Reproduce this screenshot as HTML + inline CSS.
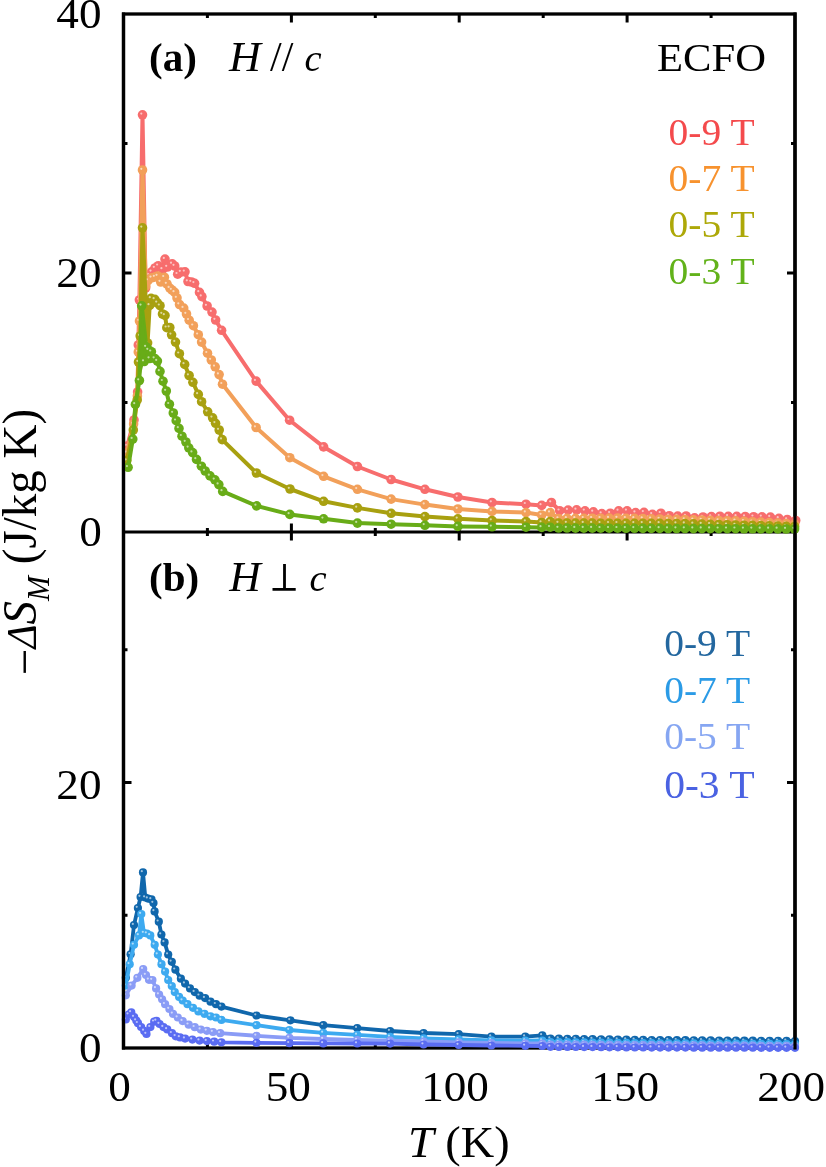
<!DOCTYPE html><html><head><meta charset="utf-8"><style>
html,body{margin:0;padding:0;background:#fff;width:826px;height:1167px;overflow:hidden}
svg{display:block;will-change:transform}
text{font-family:"Liberation Serif",serif}
</style></head><body>
<svg width="826" height="1167" viewBox="0 0 826 1167">
<g stroke="#000" fill="none">
<rect x="123.5" y="14.0" width="671.5" height="1034.0" stroke-width="3.3"/>
<line x1="123.5" y1="532.0" x2="795.0" y2="532.0" stroke-width="3"/>
<path d="M207.4 14.0 v4 M207.4 1048.0 v-4 M207.4 528 v8 M291.4 14.0 v8.5 M291.4 1048.0 v-8.5 M291.4 523.5 v17.0 M375.3 14.0 v4 M375.3 1048.0 v-4 M375.3 528 v8 M459.2 14.0 v8.5 M459.2 1048.0 v-8.5 M459.2 523.5 v17.0 M543.2 14.0 v4 M543.2 1048.0 v-4 M543.2 528 v8 M627.1 14.0 v8.5 M627.1 1048.0 v-8.5 M627.1 523.5 v17.0 M711.1 14.0 v4 M711.1 1048.0 v-4 M711.1 528 v8 M123.5 402.5 h4 M795.0 402.5 h-4 M123.5 915.2 h4 M795.0 915.2 h-4 M123.5 273 h8 M795.0 273 h-8 M123.5 782.5 h8 M795.0 782.5 h-8 M123.5 143.5 h4 M795.0 143.5 h-4 M123.5 649.8 h4 M795.0 649.8 h-4" stroke-width="3"/>
</g>
<g>
<path d="M127.3 446 L134 420 L137.6 392 L138.3 345 L139.4 300 L142.5 114.8 L145.6 288 L149 275 L151.7 271.8 L155 268 L158.3 265.7 L162.6 269.4 L165 259.1 L167.4 267 L172.2 263.9 L174.7 266 L177.7 274.2 L181 272 L185 271.8 L188 281.5 L191.5 282 L194.6 283.3 L199.5 292.4 L201.9 296.6 L207.1 306 L212 312.1 L215.6 320 L221.6 330.3 L256.1 381.1 L289.6 420.2 L323.6 446.9 L357.4 466.5 L391.1 479.5 L424.9 489.3 L457.9 497 L492 502.5 L526 504.2 L541.7 505.4 L551.4 502.5 L559.7 510.7 L568.1 510.1 L576.6 509.9 L585 510.8 L593.4 511.9 L601.8 513.6 L610.3 513.2 L618.7 510.9 L627.1 510.8 L635.6 512.6 L644 512.3 L652.4 514.3 L660.9 513.2 L669.3 515.7 L677.7 516.1 L686.1 516 L694.6 517.9 L703 517 L711.4 516.6 L719.9 516.2 L728.3 516.3 L736.7 516.4 L745.2 516.5 L753.6 516.7 L762 516.8 L770.4 517.1 L778.9 518.4 L787.3 519.5 L795.7 520.5" fill="none" stroke="#F76D6D" stroke-width="4" stroke-linejoin="round"/>
<circle cx="127.3" cy="446" r="4.8" fill="#F76D6D"/>
<circle cx="134" cy="420" r="4.8" fill="#F76D6D"/>
<circle cx="137.6" cy="392" r="4.8" fill="#F76D6D"/>
<circle cx="138.3" cy="345" r="4.8" fill="#F76D6D"/>
<circle cx="139.4" cy="300" r="4.8" fill="#F76D6D"/>
<circle cx="142.5" cy="114.8" r="4.8" fill="#F76D6D"/>
<circle cx="145.6" cy="288" r="4.8" fill="#F76D6D"/>
<circle cx="149" cy="275" r="4.8" fill="#F76D6D"/>
<circle cx="151.7" cy="271.8" r="4.8" fill="#F76D6D"/>
<circle cx="155" cy="268" r="4.8" fill="#F76D6D"/>
<circle cx="158.3" cy="265.7" r="4.8" fill="#F76D6D"/>
<circle cx="162.6" cy="269.4" r="4.8" fill="#F76D6D"/>
<circle cx="165" cy="259.1" r="4.8" fill="#F76D6D"/>
<circle cx="167.4" cy="267" r="4.8" fill="#F76D6D"/>
<circle cx="172.2" cy="263.9" r="4.8" fill="#F76D6D"/>
<circle cx="174.7" cy="266" r="4.8" fill="#F76D6D"/>
<circle cx="177.7" cy="274.2" r="4.8" fill="#F76D6D"/>
<circle cx="181" cy="272" r="4.8" fill="#F76D6D"/>
<circle cx="185" cy="271.8" r="4.8" fill="#F76D6D"/>
<circle cx="188" cy="281.5" r="4.8" fill="#F76D6D"/>
<circle cx="191.5" cy="282" r="4.8" fill="#F76D6D"/>
<circle cx="194.6" cy="283.3" r="4.8" fill="#F76D6D"/>
<circle cx="199.5" cy="292.4" r="4.8" fill="#F76D6D"/>
<circle cx="201.9" cy="296.6" r="4.8" fill="#F76D6D"/>
<circle cx="207.1" cy="306" r="4.8" fill="#F76D6D"/>
<circle cx="212" cy="312.1" r="4.8" fill="#F76D6D"/>
<circle cx="215.6" cy="320" r="4.8" fill="#F76D6D"/>
<circle cx="221.6" cy="330.3" r="4.8" fill="#F76D6D"/>
<circle cx="256.1" cy="381.1" r="4.8" fill="#F76D6D"/>
<circle cx="289.6" cy="420.2" r="4.8" fill="#F76D6D"/>
<circle cx="323.6" cy="446.9" r="4.8" fill="#F76D6D"/>
<circle cx="357.4" cy="466.5" r="4.8" fill="#F76D6D"/>
<circle cx="391.1" cy="479.5" r="4.8" fill="#F76D6D"/>
<circle cx="424.9" cy="489.3" r="4.8" fill="#F76D6D"/>
<circle cx="457.9" cy="497" r="4.8" fill="#F76D6D"/>
<circle cx="492" cy="502.5" r="4.8" fill="#F76D6D"/>
<circle cx="526" cy="504.2" r="4.8" fill="#F76D6D"/>
<circle cx="541.7" cy="505.4" r="4.8" fill="#F76D6D"/>
<circle cx="551.4" cy="502.5" r="4.8" fill="#F76D6D"/>
<circle cx="559.7" cy="510.7" r="4.8" fill="#F76D6D"/>
<circle cx="568.1" cy="510.1" r="4.8" fill="#F76D6D"/>
<circle cx="576.6" cy="509.9" r="4.8" fill="#F76D6D"/>
<circle cx="585" cy="510.8" r="4.8" fill="#F76D6D"/>
<circle cx="593.4" cy="511.9" r="4.8" fill="#F76D6D"/>
<circle cx="601.8" cy="513.6" r="4.8" fill="#F76D6D"/>
<circle cx="610.3" cy="513.2" r="4.8" fill="#F76D6D"/>
<circle cx="618.7" cy="510.9" r="4.8" fill="#F76D6D"/>
<circle cx="627.1" cy="510.8" r="4.8" fill="#F76D6D"/>
<circle cx="635.6" cy="512.6" r="4.8" fill="#F76D6D"/>
<circle cx="644" cy="512.3" r="4.8" fill="#F76D6D"/>
<circle cx="652.4" cy="514.3" r="4.8" fill="#F76D6D"/>
<circle cx="660.9" cy="513.2" r="4.8" fill="#F76D6D"/>
<circle cx="669.3" cy="515.7" r="4.8" fill="#F76D6D"/>
<circle cx="677.7" cy="516.1" r="4.8" fill="#F76D6D"/>
<circle cx="686.1" cy="516" r="4.8" fill="#F76D6D"/>
<circle cx="694.6" cy="517.9" r="4.8" fill="#F76D6D"/>
<circle cx="703" cy="517" r="4.8" fill="#F76D6D"/>
<circle cx="711.4" cy="516.6" r="4.8" fill="#F76D6D"/>
<circle cx="719.9" cy="516.2" r="4.8" fill="#F76D6D"/>
<circle cx="728.3" cy="516.3" r="4.8" fill="#F76D6D"/>
<circle cx="736.7" cy="516.4" r="4.8" fill="#F76D6D"/>
<circle cx="745.2" cy="516.5" r="4.8" fill="#F76D6D"/>
<circle cx="753.6" cy="516.7" r="4.8" fill="#F76D6D"/>
<circle cx="762" cy="516.8" r="4.8" fill="#F76D6D"/>
<circle cx="770.4" cy="517.1" r="4.8" fill="#F76D6D"/>
<circle cx="778.9" cy="518.4" r="4.8" fill="#F76D6D"/>
<circle cx="787.3" cy="519.5" r="4.8" fill="#F76D6D"/>
<circle cx="795.7" cy="520.5" r="4.8" fill="#F76D6D"/>
<circle cx="126.1" cy="444.8" r="1.1" fill="#fff" fill-opacity="0.6"/>
<circle cx="132.8" cy="418.8" r="1.1" fill="#fff" fill-opacity="0.6"/>
<circle cx="136.4" cy="390.8" r="1.1" fill="#fff" fill-opacity="0.6"/>
<circle cx="137.1" cy="343.8" r="1.1" fill="#fff" fill-opacity="0.6"/>
<circle cx="138.2" cy="298.8" r="1.1" fill="#fff" fill-opacity="0.6"/>
<circle cx="141.3" cy="113.6" r="1.1" fill="#fff" fill-opacity="0.6"/>
<circle cx="144.4" cy="286.8" r="1.1" fill="#fff" fill-opacity="0.6"/>
<circle cx="147.8" cy="273.8" r="1.1" fill="#fff" fill-opacity="0.6"/>
<circle cx="150.5" cy="270.6" r="1.1" fill="#fff" fill-opacity="0.6"/>
<circle cx="153.8" cy="266.8" r="1.1" fill="#fff" fill-opacity="0.6"/>
<circle cx="157.1" cy="264.5" r="1.1" fill="#fff" fill-opacity="0.6"/>
<circle cx="161.4" cy="268.2" r="1.1" fill="#fff" fill-opacity="0.6"/>
<circle cx="163.8" cy="257.9" r="1.1" fill="#fff" fill-opacity="0.6"/>
<circle cx="166.2" cy="265.8" r="1.1" fill="#fff" fill-opacity="0.6"/>
<circle cx="171" cy="262.7" r="1.1" fill="#fff" fill-opacity="0.6"/>
<circle cx="173.5" cy="264.8" r="1.1" fill="#fff" fill-opacity="0.6"/>
<circle cx="176.5" cy="273" r="1.1" fill="#fff" fill-opacity="0.6"/>
<circle cx="179.8" cy="270.8" r="1.1" fill="#fff" fill-opacity="0.6"/>
<circle cx="183.8" cy="270.6" r="1.1" fill="#fff" fill-opacity="0.6"/>
<circle cx="186.8" cy="280.3" r="1.1" fill="#fff" fill-opacity="0.6"/>
<circle cx="190.3" cy="280.8" r="1.1" fill="#fff" fill-opacity="0.6"/>
<circle cx="193.4" cy="282.1" r="1.1" fill="#fff" fill-opacity="0.6"/>
<circle cx="198.3" cy="291.2" r="1.1" fill="#fff" fill-opacity="0.6"/>
<circle cx="200.7" cy="295.4" r="1.1" fill="#fff" fill-opacity="0.6"/>
<circle cx="205.9" cy="304.8" r="1.1" fill="#fff" fill-opacity="0.6"/>
<circle cx="210.8" cy="310.9" r="1.1" fill="#fff" fill-opacity="0.6"/>
<circle cx="214.4" cy="318.8" r="1.1" fill="#fff" fill-opacity="0.6"/>
<circle cx="220.4" cy="329.1" r="1.1" fill="#fff" fill-opacity="0.6"/>
<circle cx="254.9" cy="379.9" r="1.1" fill="#fff" fill-opacity="0.6"/>
<circle cx="288.4" cy="419" r="1.1" fill="#fff" fill-opacity="0.6"/>
<circle cx="322.4" cy="445.7" r="1.1" fill="#fff" fill-opacity="0.6"/>
<circle cx="356.2" cy="465.3" r="1.1" fill="#fff" fill-opacity="0.6"/>
<circle cx="389.9" cy="478.3" r="1.1" fill="#fff" fill-opacity="0.6"/>
<circle cx="423.7" cy="488.1" r="1.1" fill="#fff" fill-opacity="0.6"/>
<circle cx="456.7" cy="495.8" r="1.1" fill="#fff" fill-opacity="0.6"/>
<circle cx="490.8" cy="501.3" r="1.1" fill="#fff" fill-opacity="0.6"/>
<circle cx="524.8" cy="503" r="1.1" fill="#fff" fill-opacity="0.6"/>
<circle cx="540.5" cy="504.2" r="1.1" fill="#fff" fill-opacity="0.6"/>
<circle cx="550.2" cy="501.3" r="1.1" fill="#fff" fill-opacity="0.6"/>
<circle cx="558.5" cy="509.5" r="1.1" fill="#fff" fill-opacity="0.6"/>
<circle cx="566.9" cy="508.9" r="1.1" fill="#fff" fill-opacity="0.6"/>
<circle cx="575.4" cy="508.7" r="1.1" fill="#fff" fill-opacity="0.6"/>
<circle cx="583.8" cy="509.6" r="1.1" fill="#fff" fill-opacity="0.6"/>
<circle cx="592.2" cy="510.7" r="1.1" fill="#fff" fill-opacity="0.6"/>
<circle cx="600.6" cy="512.4" r="1.1" fill="#fff" fill-opacity="0.6"/>
<circle cx="609.1" cy="512" r="1.1" fill="#fff" fill-opacity="0.6"/>
<circle cx="617.5" cy="509.7" r="1.1" fill="#fff" fill-opacity="0.6"/>
<circle cx="625.9" cy="509.6" r="1.1" fill="#fff" fill-opacity="0.6"/>
<circle cx="634.4" cy="511.4" r="1.1" fill="#fff" fill-opacity="0.6"/>
<circle cx="642.8" cy="511.1" r="1.1" fill="#fff" fill-opacity="0.6"/>
<circle cx="651.2" cy="513.1" r="1.1" fill="#fff" fill-opacity="0.6"/>
<circle cx="659.7" cy="512" r="1.1" fill="#fff" fill-opacity="0.6"/>
<circle cx="668.1" cy="514.5" r="1.1" fill="#fff" fill-opacity="0.6"/>
<circle cx="676.5" cy="514.9" r="1.1" fill="#fff" fill-opacity="0.6"/>
<circle cx="684.9" cy="514.8" r="1.1" fill="#fff" fill-opacity="0.6"/>
<circle cx="693.4" cy="516.7" r="1.1" fill="#fff" fill-opacity="0.6"/>
<circle cx="701.8" cy="515.8" r="1.1" fill="#fff" fill-opacity="0.6"/>
<circle cx="710.2" cy="515.4" r="1.1" fill="#fff" fill-opacity="0.6"/>
<circle cx="718.7" cy="515" r="1.1" fill="#fff" fill-opacity="0.6"/>
<circle cx="727.1" cy="515.1" r="1.1" fill="#fff" fill-opacity="0.6"/>
<circle cx="735.5" cy="515.2" r="1.1" fill="#fff" fill-opacity="0.6"/>
<circle cx="744" cy="515.3" r="1.1" fill="#fff" fill-opacity="0.6"/>
<circle cx="752.4" cy="515.5" r="1.1" fill="#fff" fill-opacity="0.6"/>
<circle cx="760.8" cy="515.6" r="1.1" fill="#fff" fill-opacity="0.6"/>
<circle cx="769.2" cy="515.9" r="1.1" fill="#fff" fill-opacity="0.6"/>
<circle cx="777.7" cy="517.2" r="1.1" fill="#fff" fill-opacity="0.6"/>
<circle cx="786.1" cy="518.3" r="1.1" fill="#fff" fill-opacity="0.6"/>
<circle cx="794.5" cy="519.3" r="1.1" fill="#fff" fill-opacity="0.6"/>
<path d="M126.8 452.8 L133.6 424 L137.4 396 L138.3 352 L139.5 321 L142.5 170 L145.8 286 L148 280.5 L151.7 277.8 L155 277 L157.7 276 L160.7 282 L164.4 277.2 L167 284 L169.8 288.1 L172 290 L174.7 292.4 L177 298 L179.5 304.5 L183.7 308.1 L186.5 314 L189.2 320.2 L193.4 325.7 L198.3 334.7 L201.6 342.1 L207.5 353.2 L211.3 360 L215.2 366.8 L219.1 374.6 L222.5 384.2 L256.1 427.5 L289.8 457.7 L323.6 476.3 L357.4 489.3 L391.1 499.1 L424.9 504.6 L457.9 509 L492 511.4 L526 512.6 L541.7 515 L550.2 512.6 L558.6 518.5 L567 518.4 L575.5 518.4 L583.9 518.3 L592.3 518.2 L600.7 518.2 L609.2 518.1 L617.6 518 L626 518.2 L634.5 518.4 L642.9 518.6 L651.3 518.8 L659.8 519 L668.2 519.2 L676.6 519.4 L685 519.6 L693.5 519.8 L701.9 520 L710.3 520.3 L718.8 520.5 L727.2 520.7 L735.6 520.9 L744.1 521.2 L752.5 521.7 L760.9 522.1 L769.3 522.6 L777.8 523.1 L786.2 523.5 L794.6 524" fill="none" stroke="#F2A05A" stroke-width="4" stroke-linejoin="round"/>
<circle cx="126.8" cy="452.8" r="4.8" fill="#F2A05A"/>
<circle cx="133.6" cy="424" r="4.8" fill="#F2A05A"/>
<circle cx="137.4" cy="396" r="4.8" fill="#F2A05A"/>
<circle cx="138.3" cy="352" r="4.8" fill="#F2A05A"/>
<circle cx="139.5" cy="321" r="4.8" fill="#F2A05A"/>
<circle cx="142.5" cy="170" r="4.8" fill="#F2A05A"/>
<circle cx="145.8" cy="286" r="4.8" fill="#F2A05A"/>
<circle cx="148" cy="280.5" r="4.8" fill="#F2A05A"/>
<circle cx="151.7" cy="277.8" r="4.8" fill="#F2A05A"/>
<circle cx="155" cy="277" r="4.8" fill="#F2A05A"/>
<circle cx="157.7" cy="276" r="4.8" fill="#F2A05A"/>
<circle cx="160.7" cy="282" r="4.8" fill="#F2A05A"/>
<circle cx="164.4" cy="277.2" r="4.8" fill="#F2A05A"/>
<circle cx="167" cy="284" r="4.8" fill="#F2A05A"/>
<circle cx="169.8" cy="288.1" r="4.8" fill="#F2A05A"/>
<circle cx="172" cy="290" r="4.8" fill="#F2A05A"/>
<circle cx="174.7" cy="292.4" r="4.8" fill="#F2A05A"/>
<circle cx="177" cy="298" r="4.8" fill="#F2A05A"/>
<circle cx="179.5" cy="304.5" r="4.8" fill="#F2A05A"/>
<circle cx="183.7" cy="308.1" r="4.8" fill="#F2A05A"/>
<circle cx="186.5" cy="314" r="4.8" fill="#F2A05A"/>
<circle cx="189.2" cy="320.2" r="4.8" fill="#F2A05A"/>
<circle cx="193.4" cy="325.7" r="4.8" fill="#F2A05A"/>
<circle cx="198.3" cy="334.7" r="4.8" fill="#F2A05A"/>
<circle cx="201.6" cy="342.1" r="4.8" fill="#F2A05A"/>
<circle cx="207.5" cy="353.2" r="4.8" fill="#F2A05A"/>
<circle cx="211.3" cy="360" r="4.8" fill="#F2A05A"/>
<circle cx="215.2" cy="366.8" r="4.8" fill="#F2A05A"/>
<circle cx="219.1" cy="374.6" r="4.8" fill="#F2A05A"/>
<circle cx="222.5" cy="384.2" r="4.8" fill="#F2A05A"/>
<circle cx="256.1" cy="427.5" r="4.8" fill="#F2A05A"/>
<circle cx="289.8" cy="457.7" r="4.8" fill="#F2A05A"/>
<circle cx="323.6" cy="476.3" r="4.8" fill="#F2A05A"/>
<circle cx="357.4" cy="489.3" r="4.8" fill="#F2A05A"/>
<circle cx="391.1" cy="499.1" r="4.8" fill="#F2A05A"/>
<circle cx="424.9" cy="504.6" r="4.8" fill="#F2A05A"/>
<circle cx="457.9" cy="509" r="4.8" fill="#F2A05A"/>
<circle cx="492" cy="511.4" r="4.8" fill="#F2A05A"/>
<circle cx="526" cy="512.6" r="4.8" fill="#F2A05A"/>
<circle cx="541.7" cy="515" r="4.8" fill="#F2A05A"/>
<circle cx="550.2" cy="512.6" r="4.8" fill="#F2A05A"/>
<circle cx="558.6" cy="518.5" r="4.8" fill="#F2A05A"/>
<circle cx="567" cy="518.4" r="4.8" fill="#F2A05A"/>
<circle cx="575.5" cy="518.4" r="4.8" fill="#F2A05A"/>
<circle cx="583.9" cy="518.3" r="4.8" fill="#F2A05A"/>
<circle cx="592.3" cy="518.2" r="4.8" fill="#F2A05A"/>
<circle cx="600.7" cy="518.2" r="4.8" fill="#F2A05A"/>
<circle cx="609.2" cy="518.1" r="4.8" fill="#F2A05A"/>
<circle cx="617.6" cy="518" r="4.8" fill="#F2A05A"/>
<circle cx="626" cy="518.2" r="4.8" fill="#F2A05A"/>
<circle cx="634.5" cy="518.4" r="4.8" fill="#F2A05A"/>
<circle cx="642.9" cy="518.6" r="4.8" fill="#F2A05A"/>
<circle cx="651.3" cy="518.8" r="4.8" fill="#F2A05A"/>
<circle cx="659.8" cy="519" r="4.8" fill="#F2A05A"/>
<circle cx="668.2" cy="519.2" r="4.8" fill="#F2A05A"/>
<circle cx="676.6" cy="519.4" r="4.8" fill="#F2A05A"/>
<circle cx="685" cy="519.6" r="4.8" fill="#F2A05A"/>
<circle cx="693.5" cy="519.8" r="4.8" fill="#F2A05A"/>
<circle cx="701.9" cy="520" r="4.8" fill="#F2A05A"/>
<circle cx="710.3" cy="520.3" r="4.8" fill="#F2A05A"/>
<circle cx="718.8" cy="520.5" r="4.8" fill="#F2A05A"/>
<circle cx="727.2" cy="520.7" r="4.8" fill="#F2A05A"/>
<circle cx="735.6" cy="520.9" r="4.8" fill="#F2A05A"/>
<circle cx="744.1" cy="521.2" r="4.8" fill="#F2A05A"/>
<circle cx="752.5" cy="521.7" r="4.8" fill="#F2A05A"/>
<circle cx="760.9" cy="522.1" r="4.8" fill="#F2A05A"/>
<circle cx="769.3" cy="522.6" r="4.8" fill="#F2A05A"/>
<circle cx="777.8" cy="523.1" r="4.8" fill="#F2A05A"/>
<circle cx="786.2" cy="523.5" r="4.8" fill="#F2A05A"/>
<circle cx="794.6" cy="524" r="4.8" fill="#F2A05A"/>
<circle cx="125.6" cy="451.6" r="1.1" fill="#fff" fill-opacity="0.6"/>
<circle cx="132.4" cy="422.8" r="1.1" fill="#fff" fill-opacity="0.6"/>
<circle cx="136.2" cy="394.8" r="1.1" fill="#fff" fill-opacity="0.6"/>
<circle cx="137.1" cy="350.8" r="1.1" fill="#fff" fill-opacity="0.6"/>
<circle cx="138.3" cy="319.8" r="1.1" fill="#fff" fill-opacity="0.6"/>
<circle cx="141.3" cy="168.8" r="1.1" fill="#fff" fill-opacity="0.6"/>
<circle cx="144.6" cy="284.8" r="1.1" fill="#fff" fill-opacity="0.6"/>
<circle cx="146.8" cy="279.3" r="1.1" fill="#fff" fill-opacity="0.6"/>
<circle cx="150.5" cy="276.6" r="1.1" fill="#fff" fill-opacity="0.6"/>
<circle cx="153.8" cy="275.8" r="1.1" fill="#fff" fill-opacity="0.6"/>
<circle cx="156.5" cy="274.8" r="1.1" fill="#fff" fill-opacity="0.6"/>
<circle cx="159.5" cy="280.8" r="1.1" fill="#fff" fill-opacity="0.6"/>
<circle cx="163.2" cy="276" r="1.1" fill="#fff" fill-opacity="0.6"/>
<circle cx="165.8" cy="282.8" r="1.1" fill="#fff" fill-opacity="0.6"/>
<circle cx="168.6" cy="286.9" r="1.1" fill="#fff" fill-opacity="0.6"/>
<circle cx="170.8" cy="288.8" r="1.1" fill="#fff" fill-opacity="0.6"/>
<circle cx="173.5" cy="291.2" r="1.1" fill="#fff" fill-opacity="0.6"/>
<circle cx="175.8" cy="296.8" r="1.1" fill="#fff" fill-opacity="0.6"/>
<circle cx="178.3" cy="303.3" r="1.1" fill="#fff" fill-opacity="0.6"/>
<circle cx="182.5" cy="306.9" r="1.1" fill="#fff" fill-opacity="0.6"/>
<circle cx="185.3" cy="312.8" r="1.1" fill="#fff" fill-opacity="0.6"/>
<circle cx="188" cy="319" r="1.1" fill="#fff" fill-opacity="0.6"/>
<circle cx="192.2" cy="324.5" r="1.1" fill="#fff" fill-opacity="0.6"/>
<circle cx="197.1" cy="333.5" r="1.1" fill="#fff" fill-opacity="0.6"/>
<circle cx="200.4" cy="340.9" r="1.1" fill="#fff" fill-opacity="0.6"/>
<circle cx="206.3" cy="352" r="1.1" fill="#fff" fill-opacity="0.6"/>
<circle cx="210.1" cy="358.8" r="1.1" fill="#fff" fill-opacity="0.6"/>
<circle cx="214" cy="365.6" r="1.1" fill="#fff" fill-opacity="0.6"/>
<circle cx="217.9" cy="373.4" r="1.1" fill="#fff" fill-opacity="0.6"/>
<circle cx="221.3" cy="383" r="1.1" fill="#fff" fill-opacity="0.6"/>
<circle cx="254.9" cy="426.3" r="1.1" fill="#fff" fill-opacity="0.6"/>
<circle cx="288.6" cy="456.5" r="1.1" fill="#fff" fill-opacity="0.6"/>
<circle cx="322.4" cy="475.1" r="1.1" fill="#fff" fill-opacity="0.6"/>
<circle cx="356.2" cy="488.1" r="1.1" fill="#fff" fill-opacity="0.6"/>
<circle cx="389.9" cy="497.9" r="1.1" fill="#fff" fill-opacity="0.6"/>
<circle cx="423.7" cy="503.4" r="1.1" fill="#fff" fill-opacity="0.6"/>
<circle cx="456.7" cy="507.8" r="1.1" fill="#fff" fill-opacity="0.6"/>
<circle cx="490.8" cy="510.2" r="1.1" fill="#fff" fill-opacity="0.6"/>
<circle cx="524.8" cy="511.4" r="1.1" fill="#fff" fill-opacity="0.6"/>
<circle cx="540.5" cy="513.8" r="1.1" fill="#fff" fill-opacity="0.6"/>
<circle cx="549" cy="511.4" r="1.1" fill="#fff" fill-opacity="0.6"/>
<circle cx="557.4" cy="517.3" r="1.1" fill="#fff" fill-opacity="0.6"/>
<circle cx="565.8" cy="517.2" r="1.1" fill="#fff" fill-opacity="0.6"/>
<circle cx="574.3" cy="517.2" r="1.1" fill="#fff" fill-opacity="0.6"/>
<circle cx="582.7" cy="517.1" r="1.1" fill="#fff" fill-opacity="0.6"/>
<circle cx="591.1" cy="517" r="1.1" fill="#fff" fill-opacity="0.6"/>
<circle cx="599.5" cy="517" r="1.1" fill="#fff" fill-opacity="0.6"/>
<circle cx="608" cy="516.9" r="1.1" fill="#fff" fill-opacity="0.6"/>
<circle cx="616.4" cy="516.8" r="1.1" fill="#fff" fill-opacity="0.6"/>
<circle cx="624.8" cy="517" r="1.1" fill="#fff" fill-opacity="0.6"/>
<circle cx="633.3" cy="517.2" r="1.1" fill="#fff" fill-opacity="0.6"/>
<circle cx="641.7" cy="517.4" r="1.1" fill="#fff" fill-opacity="0.6"/>
<circle cx="650.1" cy="517.6" r="1.1" fill="#fff" fill-opacity="0.6"/>
<circle cx="658.6" cy="517.8" r="1.1" fill="#fff" fill-opacity="0.6"/>
<circle cx="667" cy="518" r="1.1" fill="#fff" fill-opacity="0.6"/>
<circle cx="675.4" cy="518.2" r="1.1" fill="#fff" fill-opacity="0.6"/>
<circle cx="683.8" cy="518.4" r="1.1" fill="#fff" fill-opacity="0.6"/>
<circle cx="692.3" cy="518.6" r="1.1" fill="#fff" fill-opacity="0.6"/>
<circle cx="700.7" cy="518.8" r="1.1" fill="#fff" fill-opacity="0.6"/>
<circle cx="709.1" cy="519.1" r="1.1" fill="#fff" fill-opacity="0.6"/>
<circle cx="717.6" cy="519.3" r="1.1" fill="#fff" fill-opacity="0.6"/>
<circle cx="726" cy="519.5" r="1.1" fill="#fff" fill-opacity="0.6"/>
<circle cx="734.4" cy="519.7" r="1.1" fill="#fff" fill-opacity="0.6"/>
<circle cx="742.9" cy="520" r="1.1" fill="#fff" fill-opacity="0.6"/>
<circle cx="751.3" cy="520.5" r="1.1" fill="#fff" fill-opacity="0.6"/>
<circle cx="759.7" cy="520.9" r="1.1" fill="#fff" fill-opacity="0.6"/>
<circle cx="768.1" cy="521.4" r="1.1" fill="#fff" fill-opacity="0.6"/>
<circle cx="776.6" cy="521.9" r="1.1" fill="#fff" fill-opacity="0.6"/>
<circle cx="785" cy="522.3" r="1.1" fill="#fff" fill-opacity="0.6"/>
<circle cx="793.4" cy="522.8" r="1.1" fill="#fff" fill-opacity="0.6"/>
<path d="M126.8 460.5 L133.3 430 L137.2 400 L138.5 362 L140.2 336 L142.5 227.8 L147.6 343 L149.7 305.4 L151 298.4 L154.8 299.4 L157.4 302.8 L160 305.7 L162.5 314 L165 315.4 L166.8 327.7 L169.8 327.5 L171.6 334.8 L175.5 342.1 L179.4 353.7 L184.7 364.4 L189.1 375.5 L192.9 382.3 L198.3 394.4 L201.6 401.7 L207.7 411.8 L212.6 417.8 L215.6 423.3 L219.2 430 L222.2 439.6 L256.4 473 L290 489 L323.6 501.3 L357.4 507.9 L391.1 513.3 L424.9 516.6 L457.9 518.8 L492 520.5 L526 521.5 L541.7 522.5 L550.2 521.5 L558.6 523 L567 523 L575.5 523.1 L583.9 523.1 L592.3 523.1 L600.7 523.2 L609.2 523.2 L617.6 523.2 L626 523.3 L634.5 523.3 L642.9 523.3 L651.3 523.4 L659.8 523.4 L668.2 523.5 L676.6 523.5 L685 523.6 L693.5 523.9 L701.9 524.1 L710.3 524.3 L718.8 524.5 L727.2 524.7 L735.6 525 L744.1 525.2 L752.5 525.4 L760.9 525.6 L769.3 525.8 L777.8 526.1 L786.2 526.3 L794.6 526.5" fill="none" stroke="#A8A010" stroke-width="4" stroke-linejoin="round"/>
<polygon points="140.2,336 142.5,227.8 147.6,343" fill="#A8A010"/>
<circle cx="126.8" cy="460.5" r="4.8" fill="#A8A010"/>
<circle cx="133.3" cy="430" r="4.8" fill="#A8A010"/>
<circle cx="137.2" cy="400" r="4.8" fill="#A8A010"/>
<circle cx="138.5" cy="362" r="4.8" fill="#A8A010"/>
<circle cx="140.2" cy="336" r="4.8" fill="#A8A010"/>
<circle cx="142.5" cy="227.8" r="4.8" fill="#A8A010"/>
<circle cx="147.6" cy="343" r="4.8" fill="#A8A010"/>
<circle cx="149.7" cy="305.4" r="4.8" fill="#A8A010"/>
<circle cx="151" cy="298.4" r="4.8" fill="#A8A010"/>
<circle cx="154.8" cy="299.4" r="4.8" fill="#A8A010"/>
<circle cx="157.4" cy="302.8" r="4.8" fill="#A8A010"/>
<circle cx="160" cy="305.7" r="4.8" fill="#A8A010"/>
<circle cx="162.5" cy="314" r="4.8" fill="#A8A010"/>
<circle cx="165" cy="315.4" r="4.8" fill="#A8A010"/>
<circle cx="166.8" cy="327.7" r="4.8" fill="#A8A010"/>
<circle cx="169.8" cy="327.5" r="4.8" fill="#A8A010"/>
<circle cx="171.6" cy="334.8" r="4.8" fill="#A8A010"/>
<circle cx="175.5" cy="342.1" r="4.8" fill="#A8A010"/>
<circle cx="179.4" cy="353.7" r="4.8" fill="#A8A010"/>
<circle cx="184.7" cy="364.4" r="4.8" fill="#A8A010"/>
<circle cx="189.1" cy="375.5" r="4.8" fill="#A8A010"/>
<circle cx="192.9" cy="382.3" r="4.8" fill="#A8A010"/>
<circle cx="198.3" cy="394.4" r="4.8" fill="#A8A010"/>
<circle cx="201.6" cy="401.7" r="4.8" fill="#A8A010"/>
<circle cx="207.7" cy="411.8" r="4.8" fill="#A8A010"/>
<circle cx="212.6" cy="417.8" r="4.8" fill="#A8A010"/>
<circle cx="215.6" cy="423.3" r="4.8" fill="#A8A010"/>
<circle cx="219.2" cy="430" r="4.8" fill="#A8A010"/>
<circle cx="222.2" cy="439.6" r="4.8" fill="#A8A010"/>
<circle cx="256.4" cy="473" r="4.8" fill="#A8A010"/>
<circle cx="290" cy="489" r="4.8" fill="#A8A010"/>
<circle cx="323.6" cy="501.3" r="4.8" fill="#A8A010"/>
<circle cx="357.4" cy="507.9" r="4.8" fill="#A8A010"/>
<circle cx="391.1" cy="513.3" r="4.8" fill="#A8A010"/>
<circle cx="424.9" cy="516.6" r="4.8" fill="#A8A010"/>
<circle cx="457.9" cy="518.8" r="4.8" fill="#A8A010"/>
<circle cx="492" cy="520.5" r="4.8" fill="#A8A010"/>
<circle cx="526" cy="521.5" r="4.8" fill="#A8A010"/>
<circle cx="541.7" cy="522.5" r="4.8" fill="#A8A010"/>
<circle cx="550.2" cy="521.5" r="4.8" fill="#A8A010"/>
<circle cx="558.6" cy="523" r="4.8" fill="#A8A010"/>
<circle cx="567" cy="523" r="4.8" fill="#A8A010"/>
<circle cx="575.5" cy="523.1" r="4.8" fill="#A8A010"/>
<circle cx="583.9" cy="523.1" r="4.8" fill="#A8A010"/>
<circle cx="592.3" cy="523.1" r="4.8" fill="#A8A010"/>
<circle cx="600.7" cy="523.2" r="4.8" fill="#A8A010"/>
<circle cx="609.2" cy="523.2" r="4.8" fill="#A8A010"/>
<circle cx="617.6" cy="523.2" r="4.8" fill="#A8A010"/>
<circle cx="626" cy="523.3" r="4.8" fill="#A8A010"/>
<circle cx="634.5" cy="523.3" r="4.8" fill="#A8A010"/>
<circle cx="642.9" cy="523.3" r="4.8" fill="#A8A010"/>
<circle cx="651.3" cy="523.4" r="4.8" fill="#A8A010"/>
<circle cx="659.8" cy="523.4" r="4.8" fill="#A8A010"/>
<circle cx="668.2" cy="523.5" r="4.8" fill="#A8A010"/>
<circle cx="676.6" cy="523.5" r="4.8" fill="#A8A010"/>
<circle cx="685" cy="523.6" r="4.8" fill="#A8A010"/>
<circle cx="693.5" cy="523.9" r="4.8" fill="#A8A010"/>
<circle cx="701.9" cy="524.1" r="4.8" fill="#A8A010"/>
<circle cx="710.3" cy="524.3" r="4.8" fill="#A8A010"/>
<circle cx="718.8" cy="524.5" r="4.8" fill="#A8A010"/>
<circle cx="727.2" cy="524.7" r="4.8" fill="#A8A010"/>
<circle cx="735.6" cy="525" r="4.8" fill="#A8A010"/>
<circle cx="744.1" cy="525.2" r="4.8" fill="#A8A010"/>
<circle cx="752.5" cy="525.4" r="4.8" fill="#A8A010"/>
<circle cx="760.9" cy="525.6" r="4.8" fill="#A8A010"/>
<circle cx="769.3" cy="525.8" r="4.8" fill="#A8A010"/>
<circle cx="777.8" cy="526.1" r="4.8" fill="#A8A010"/>
<circle cx="786.2" cy="526.3" r="4.8" fill="#A8A010"/>
<circle cx="794.6" cy="526.5" r="4.8" fill="#A8A010"/>
<circle cx="125.6" cy="459.3" r="1.1" fill="#fff" fill-opacity="0.6"/>
<circle cx="132.1" cy="428.8" r="1.1" fill="#fff" fill-opacity="0.6"/>
<circle cx="136" cy="398.8" r="1.1" fill="#fff" fill-opacity="0.6"/>
<circle cx="137.3" cy="360.8" r="1.1" fill="#fff" fill-opacity="0.6"/>
<circle cx="139" cy="334.8" r="1.1" fill="#fff" fill-opacity="0.6"/>
<circle cx="141.3" cy="226.6" r="1.1" fill="#fff" fill-opacity="0.6"/>
<circle cx="146.4" cy="341.8" r="1.1" fill="#fff" fill-opacity="0.6"/>
<circle cx="148.5" cy="304.2" r="1.1" fill="#fff" fill-opacity="0.6"/>
<circle cx="149.8" cy="297.2" r="1.1" fill="#fff" fill-opacity="0.6"/>
<circle cx="153.6" cy="298.2" r="1.1" fill="#fff" fill-opacity="0.6"/>
<circle cx="156.2" cy="301.6" r="1.1" fill="#fff" fill-opacity="0.6"/>
<circle cx="158.8" cy="304.5" r="1.1" fill="#fff" fill-opacity="0.6"/>
<circle cx="161.3" cy="312.8" r="1.1" fill="#fff" fill-opacity="0.6"/>
<circle cx="163.8" cy="314.2" r="1.1" fill="#fff" fill-opacity="0.6"/>
<circle cx="165.6" cy="326.5" r="1.1" fill="#fff" fill-opacity="0.6"/>
<circle cx="168.6" cy="326.3" r="1.1" fill="#fff" fill-opacity="0.6"/>
<circle cx="170.4" cy="333.6" r="1.1" fill="#fff" fill-opacity="0.6"/>
<circle cx="174.3" cy="340.9" r="1.1" fill="#fff" fill-opacity="0.6"/>
<circle cx="178.2" cy="352.5" r="1.1" fill="#fff" fill-opacity="0.6"/>
<circle cx="183.5" cy="363.2" r="1.1" fill="#fff" fill-opacity="0.6"/>
<circle cx="187.9" cy="374.3" r="1.1" fill="#fff" fill-opacity="0.6"/>
<circle cx="191.7" cy="381.1" r="1.1" fill="#fff" fill-opacity="0.6"/>
<circle cx="197.1" cy="393.2" r="1.1" fill="#fff" fill-opacity="0.6"/>
<circle cx="200.4" cy="400.5" r="1.1" fill="#fff" fill-opacity="0.6"/>
<circle cx="206.5" cy="410.6" r="1.1" fill="#fff" fill-opacity="0.6"/>
<circle cx="211.4" cy="416.6" r="1.1" fill="#fff" fill-opacity="0.6"/>
<circle cx="214.4" cy="422.1" r="1.1" fill="#fff" fill-opacity="0.6"/>
<circle cx="218" cy="428.8" r="1.1" fill="#fff" fill-opacity="0.6"/>
<circle cx="221" cy="438.4" r="1.1" fill="#fff" fill-opacity="0.6"/>
<circle cx="255.2" cy="471.8" r="1.1" fill="#fff" fill-opacity="0.6"/>
<circle cx="288.8" cy="487.8" r="1.1" fill="#fff" fill-opacity="0.6"/>
<circle cx="322.4" cy="500.1" r="1.1" fill="#fff" fill-opacity="0.6"/>
<circle cx="356.2" cy="506.7" r="1.1" fill="#fff" fill-opacity="0.6"/>
<circle cx="389.9" cy="512.1" r="1.1" fill="#fff" fill-opacity="0.6"/>
<circle cx="423.7" cy="515.4" r="1.1" fill="#fff" fill-opacity="0.6"/>
<circle cx="456.7" cy="517.6" r="1.1" fill="#fff" fill-opacity="0.6"/>
<circle cx="490.8" cy="519.3" r="1.1" fill="#fff" fill-opacity="0.6"/>
<circle cx="524.8" cy="520.3" r="1.1" fill="#fff" fill-opacity="0.6"/>
<circle cx="540.5" cy="521.3" r="1.1" fill="#fff" fill-opacity="0.6"/>
<circle cx="549" cy="520.3" r="1.1" fill="#fff" fill-opacity="0.6"/>
<circle cx="557.4" cy="521.8" r="1.1" fill="#fff" fill-opacity="0.6"/>
<circle cx="565.8" cy="521.8" r="1.1" fill="#fff" fill-opacity="0.6"/>
<circle cx="574.3" cy="521.9" r="1.1" fill="#fff" fill-opacity="0.6"/>
<circle cx="582.7" cy="521.9" r="1.1" fill="#fff" fill-opacity="0.6"/>
<circle cx="591.1" cy="521.9" r="1.1" fill="#fff" fill-opacity="0.6"/>
<circle cx="599.5" cy="522" r="1.1" fill="#fff" fill-opacity="0.6"/>
<circle cx="608" cy="522" r="1.1" fill="#fff" fill-opacity="0.6"/>
<circle cx="616.4" cy="522" r="1.1" fill="#fff" fill-opacity="0.6"/>
<circle cx="624.8" cy="522.1" r="1.1" fill="#fff" fill-opacity="0.6"/>
<circle cx="633.3" cy="522.1" r="1.1" fill="#fff" fill-opacity="0.6"/>
<circle cx="641.7" cy="522.1" r="1.1" fill="#fff" fill-opacity="0.6"/>
<circle cx="650.1" cy="522.2" r="1.1" fill="#fff" fill-opacity="0.6"/>
<circle cx="658.6" cy="522.2" r="1.1" fill="#fff" fill-opacity="0.6"/>
<circle cx="667" cy="522.3" r="1.1" fill="#fff" fill-opacity="0.6"/>
<circle cx="675.4" cy="522.3" r="1.1" fill="#fff" fill-opacity="0.6"/>
<circle cx="683.8" cy="522.4" r="1.1" fill="#fff" fill-opacity="0.6"/>
<circle cx="692.3" cy="522.7" r="1.1" fill="#fff" fill-opacity="0.6"/>
<circle cx="700.7" cy="522.9" r="1.1" fill="#fff" fill-opacity="0.6"/>
<circle cx="709.1" cy="523.1" r="1.1" fill="#fff" fill-opacity="0.6"/>
<circle cx="717.6" cy="523.3" r="1.1" fill="#fff" fill-opacity="0.6"/>
<circle cx="726" cy="523.5" r="1.1" fill="#fff" fill-opacity="0.6"/>
<circle cx="734.4" cy="523.8" r="1.1" fill="#fff" fill-opacity="0.6"/>
<circle cx="742.9" cy="524" r="1.1" fill="#fff" fill-opacity="0.6"/>
<circle cx="751.3" cy="524.2" r="1.1" fill="#fff" fill-opacity="0.6"/>
<circle cx="759.7" cy="524.4" r="1.1" fill="#fff" fill-opacity="0.6"/>
<circle cx="768.1" cy="524.6" r="1.1" fill="#fff" fill-opacity="0.6"/>
<circle cx="776.6" cy="524.9" r="1.1" fill="#fff" fill-opacity="0.6"/>
<circle cx="785" cy="525.1" r="1.1" fill="#fff" fill-opacity="0.6"/>
<circle cx="793.4" cy="525.3" r="1.1" fill="#fff" fill-opacity="0.6"/>
<path d="M128.1 467.3 L132.8 439.1 L135.4 404.4 L139.4 380.5 L141.7 305.8 L146.3 347 L144.2 361.5 L148.5 350 L151.4 351.7 L149.7 358.5 L154.8 358.5 L157.4 361.1 L160 371.4 L163 381.2 L166.3 391 L169.4 404.2 L173.3 413 L176.2 420.7 L179 428.4 L182 436.2 L185.9 442 L188.8 447.8 L192.6 452.6 L196.5 459.4 L201.4 466.2 L205.2 471 L210 475.9 L214.9 479.8 L218.8 484.6 L222.7 491.4 L256.6 505.9 L289.8 514.4 L323.6 518.8 L357.4 523.1 L391.1 524.2 L424.9 525.3 L457.9 526.4 L492 526.8 L526 527.2 L541.7 527.4 L550.2 527.2 L558.6 528 L567 528 L575.5 528.1 L583.9 528.1 L592.3 528.1 L600.7 528.2 L609.2 528.2 L617.6 528.2 L626 528.3 L634.5 528.3 L642.9 528.4 L651.3 528.4 L659.8 528.4 L668.2 528.5 L676.6 528.5 L685 528.5 L693.5 528.6 L701.9 528.6 L710.3 528.6 L718.8 528.7 L727.2 528.7 L735.6 528.7 L744.1 528.8 L752.5 528.8 L760.9 528.9 L769.3 528.9 L777.8 528.9 L786.2 529 L794.6 529" fill="none" stroke="#68AC18" stroke-width="4" stroke-linejoin="round"/>
<polygon points="139.4,380.5 141.7,305.8 146.3,347 144.2,361.5" fill="#68AC18"/>
<circle cx="128.1" cy="467.3" r="4.8" fill="#68AC18"/>
<circle cx="132.8" cy="439.1" r="4.8" fill="#68AC18"/>
<circle cx="135.4" cy="404.4" r="4.8" fill="#68AC18"/>
<circle cx="139.4" cy="380.5" r="4.8" fill="#68AC18"/>
<circle cx="141.7" cy="305.8" r="4.8" fill="#68AC18"/>
<circle cx="146.3" cy="347" r="4.8" fill="#68AC18"/>
<circle cx="144.2" cy="361.5" r="4.8" fill="#68AC18"/>
<circle cx="148.5" cy="350" r="4.8" fill="#68AC18"/>
<circle cx="151.4" cy="351.7" r="4.8" fill="#68AC18"/>
<circle cx="149.7" cy="358.5" r="4.8" fill="#68AC18"/>
<circle cx="154.8" cy="358.5" r="4.8" fill="#68AC18"/>
<circle cx="157.4" cy="361.1" r="4.8" fill="#68AC18"/>
<circle cx="160" cy="371.4" r="4.8" fill="#68AC18"/>
<circle cx="163" cy="381.2" r="4.8" fill="#68AC18"/>
<circle cx="166.3" cy="391" r="4.8" fill="#68AC18"/>
<circle cx="169.4" cy="404.2" r="4.8" fill="#68AC18"/>
<circle cx="173.3" cy="413" r="4.8" fill="#68AC18"/>
<circle cx="176.2" cy="420.7" r="4.8" fill="#68AC18"/>
<circle cx="179" cy="428.4" r="4.8" fill="#68AC18"/>
<circle cx="182" cy="436.2" r="4.8" fill="#68AC18"/>
<circle cx="185.9" cy="442" r="4.8" fill="#68AC18"/>
<circle cx="188.8" cy="447.8" r="4.8" fill="#68AC18"/>
<circle cx="192.6" cy="452.6" r="4.8" fill="#68AC18"/>
<circle cx="196.5" cy="459.4" r="4.8" fill="#68AC18"/>
<circle cx="201.4" cy="466.2" r="4.8" fill="#68AC18"/>
<circle cx="205.2" cy="471" r="4.8" fill="#68AC18"/>
<circle cx="210" cy="475.9" r="4.8" fill="#68AC18"/>
<circle cx="214.9" cy="479.8" r="4.8" fill="#68AC18"/>
<circle cx="218.8" cy="484.6" r="4.8" fill="#68AC18"/>
<circle cx="222.7" cy="491.4" r="4.8" fill="#68AC18"/>
<circle cx="256.6" cy="505.9" r="4.8" fill="#68AC18"/>
<circle cx="289.8" cy="514.4" r="4.8" fill="#68AC18"/>
<circle cx="323.6" cy="518.8" r="4.8" fill="#68AC18"/>
<circle cx="357.4" cy="523.1" r="4.8" fill="#68AC18"/>
<circle cx="391.1" cy="524.2" r="4.8" fill="#68AC18"/>
<circle cx="424.9" cy="525.3" r="4.8" fill="#68AC18"/>
<circle cx="457.9" cy="526.4" r="4.8" fill="#68AC18"/>
<circle cx="492" cy="526.8" r="4.8" fill="#68AC18"/>
<circle cx="526" cy="527.2" r="4.8" fill="#68AC18"/>
<circle cx="541.7" cy="527.4" r="4.8" fill="#68AC18"/>
<circle cx="550.2" cy="527.2" r="4.8" fill="#68AC18"/>
<circle cx="558.6" cy="528" r="4.8" fill="#68AC18"/>
<circle cx="567" cy="528" r="4.8" fill="#68AC18"/>
<circle cx="575.5" cy="528.1" r="4.8" fill="#68AC18"/>
<circle cx="583.9" cy="528.1" r="4.8" fill="#68AC18"/>
<circle cx="592.3" cy="528.1" r="4.8" fill="#68AC18"/>
<circle cx="600.7" cy="528.2" r="4.8" fill="#68AC18"/>
<circle cx="609.2" cy="528.2" r="4.8" fill="#68AC18"/>
<circle cx="617.6" cy="528.2" r="4.8" fill="#68AC18"/>
<circle cx="626" cy="528.3" r="4.8" fill="#68AC18"/>
<circle cx="634.5" cy="528.3" r="4.8" fill="#68AC18"/>
<circle cx="642.9" cy="528.4" r="4.8" fill="#68AC18"/>
<circle cx="651.3" cy="528.4" r="4.8" fill="#68AC18"/>
<circle cx="659.8" cy="528.4" r="4.8" fill="#68AC18"/>
<circle cx="668.2" cy="528.5" r="4.8" fill="#68AC18"/>
<circle cx="676.6" cy="528.5" r="4.8" fill="#68AC18"/>
<circle cx="685" cy="528.5" r="4.8" fill="#68AC18"/>
<circle cx="693.5" cy="528.6" r="4.8" fill="#68AC18"/>
<circle cx="701.9" cy="528.6" r="4.8" fill="#68AC18"/>
<circle cx="710.3" cy="528.6" r="4.8" fill="#68AC18"/>
<circle cx="718.8" cy="528.7" r="4.8" fill="#68AC18"/>
<circle cx="727.2" cy="528.7" r="4.8" fill="#68AC18"/>
<circle cx="735.6" cy="528.7" r="4.8" fill="#68AC18"/>
<circle cx="744.1" cy="528.8" r="4.8" fill="#68AC18"/>
<circle cx="752.5" cy="528.8" r="4.8" fill="#68AC18"/>
<circle cx="760.9" cy="528.9" r="4.8" fill="#68AC18"/>
<circle cx="769.3" cy="528.9" r="4.8" fill="#68AC18"/>
<circle cx="777.8" cy="528.9" r="4.8" fill="#68AC18"/>
<circle cx="786.2" cy="529" r="4.8" fill="#68AC18"/>
<circle cx="794.6" cy="529" r="4.8" fill="#68AC18"/>
<circle cx="126.9" cy="466.1" r="1.1" fill="#fff" fill-opacity="0.6"/>
<circle cx="131.6" cy="437.9" r="1.1" fill="#fff" fill-opacity="0.6"/>
<circle cx="134.2" cy="403.2" r="1.1" fill="#fff" fill-opacity="0.6"/>
<circle cx="138.2" cy="379.3" r="1.1" fill="#fff" fill-opacity="0.6"/>
<circle cx="140.5" cy="304.6" r="1.1" fill="#fff" fill-opacity="0.6"/>
<circle cx="145.1" cy="345.8" r="1.1" fill="#fff" fill-opacity="0.6"/>
<circle cx="143" cy="360.3" r="1.1" fill="#fff" fill-opacity="0.6"/>
<circle cx="147.3" cy="348.8" r="1.1" fill="#fff" fill-opacity="0.6"/>
<circle cx="150.2" cy="350.5" r="1.1" fill="#fff" fill-opacity="0.6"/>
<circle cx="148.5" cy="357.3" r="1.1" fill="#fff" fill-opacity="0.6"/>
<circle cx="153.6" cy="357.3" r="1.1" fill="#fff" fill-opacity="0.6"/>
<circle cx="156.2" cy="359.9" r="1.1" fill="#fff" fill-opacity="0.6"/>
<circle cx="158.8" cy="370.2" r="1.1" fill="#fff" fill-opacity="0.6"/>
<circle cx="161.8" cy="380" r="1.1" fill="#fff" fill-opacity="0.6"/>
<circle cx="165.1" cy="389.8" r="1.1" fill="#fff" fill-opacity="0.6"/>
<circle cx="168.2" cy="403" r="1.1" fill="#fff" fill-opacity="0.6"/>
<circle cx="172.1" cy="411.8" r="1.1" fill="#fff" fill-opacity="0.6"/>
<circle cx="175" cy="419.5" r="1.1" fill="#fff" fill-opacity="0.6"/>
<circle cx="177.8" cy="427.2" r="1.1" fill="#fff" fill-opacity="0.6"/>
<circle cx="180.8" cy="435" r="1.1" fill="#fff" fill-opacity="0.6"/>
<circle cx="184.7" cy="440.8" r="1.1" fill="#fff" fill-opacity="0.6"/>
<circle cx="187.6" cy="446.6" r="1.1" fill="#fff" fill-opacity="0.6"/>
<circle cx="191.4" cy="451.4" r="1.1" fill="#fff" fill-opacity="0.6"/>
<circle cx="195.3" cy="458.2" r="1.1" fill="#fff" fill-opacity="0.6"/>
<circle cx="200.2" cy="465" r="1.1" fill="#fff" fill-opacity="0.6"/>
<circle cx="204" cy="469.8" r="1.1" fill="#fff" fill-opacity="0.6"/>
<circle cx="208.8" cy="474.7" r="1.1" fill="#fff" fill-opacity="0.6"/>
<circle cx="213.7" cy="478.6" r="1.1" fill="#fff" fill-opacity="0.6"/>
<circle cx="217.6" cy="483.4" r="1.1" fill="#fff" fill-opacity="0.6"/>
<circle cx="221.5" cy="490.2" r="1.1" fill="#fff" fill-opacity="0.6"/>
<circle cx="255.4" cy="504.7" r="1.1" fill="#fff" fill-opacity="0.6"/>
<circle cx="288.6" cy="513.2" r="1.1" fill="#fff" fill-opacity="0.6"/>
<circle cx="322.4" cy="517.6" r="1.1" fill="#fff" fill-opacity="0.6"/>
<circle cx="356.2" cy="521.9" r="1.1" fill="#fff" fill-opacity="0.6"/>
<circle cx="389.9" cy="523" r="1.1" fill="#fff" fill-opacity="0.6"/>
<circle cx="423.7" cy="524.1" r="1.1" fill="#fff" fill-opacity="0.6"/>
<circle cx="456.7" cy="525.2" r="1.1" fill="#fff" fill-opacity="0.6"/>
<circle cx="490.8" cy="525.6" r="1.1" fill="#fff" fill-opacity="0.6"/>
<circle cx="524.8" cy="526" r="1.1" fill="#fff" fill-opacity="0.6"/>
<circle cx="540.5" cy="526.2" r="1.1" fill="#fff" fill-opacity="0.6"/>
<circle cx="549" cy="526" r="1.1" fill="#fff" fill-opacity="0.6"/>
<circle cx="557.4" cy="526.8" r="1.1" fill="#fff" fill-opacity="0.6"/>
<circle cx="565.8" cy="526.8" r="1.1" fill="#fff" fill-opacity="0.6"/>
<circle cx="574.3" cy="526.9" r="1.1" fill="#fff" fill-opacity="0.6"/>
<circle cx="582.7" cy="526.9" r="1.1" fill="#fff" fill-opacity="0.6"/>
<circle cx="591.1" cy="526.9" r="1.1" fill="#fff" fill-opacity="0.6"/>
<circle cx="599.5" cy="527" r="1.1" fill="#fff" fill-opacity="0.6"/>
<circle cx="608" cy="527" r="1.1" fill="#fff" fill-opacity="0.6"/>
<circle cx="616.4" cy="527" r="1.1" fill="#fff" fill-opacity="0.6"/>
<circle cx="624.8" cy="527.1" r="1.1" fill="#fff" fill-opacity="0.6"/>
<circle cx="633.3" cy="527.1" r="1.1" fill="#fff" fill-opacity="0.6"/>
<circle cx="641.7" cy="527.2" r="1.1" fill="#fff" fill-opacity="0.6"/>
<circle cx="650.1" cy="527.2" r="1.1" fill="#fff" fill-opacity="0.6"/>
<circle cx="658.6" cy="527.2" r="1.1" fill="#fff" fill-opacity="0.6"/>
<circle cx="667" cy="527.3" r="1.1" fill="#fff" fill-opacity="0.6"/>
<circle cx="675.4" cy="527.3" r="1.1" fill="#fff" fill-opacity="0.6"/>
<circle cx="683.8" cy="527.3" r="1.1" fill="#fff" fill-opacity="0.6"/>
<circle cx="692.3" cy="527.4" r="1.1" fill="#fff" fill-opacity="0.6"/>
<circle cx="700.7" cy="527.4" r="1.1" fill="#fff" fill-opacity="0.6"/>
<circle cx="709.1" cy="527.4" r="1.1" fill="#fff" fill-opacity="0.6"/>
<circle cx="717.6" cy="527.5" r="1.1" fill="#fff" fill-opacity="0.6"/>
<circle cx="726" cy="527.5" r="1.1" fill="#fff" fill-opacity="0.6"/>
<circle cx="734.4" cy="527.5" r="1.1" fill="#fff" fill-opacity="0.6"/>
<circle cx="742.9" cy="527.6" r="1.1" fill="#fff" fill-opacity="0.6"/>
<circle cx="751.3" cy="527.6" r="1.1" fill="#fff" fill-opacity="0.6"/>
<circle cx="759.7" cy="527.7" r="1.1" fill="#fff" fill-opacity="0.6"/>
<circle cx="768.1" cy="527.7" r="1.1" fill="#fff" fill-opacity="0.6"/>
<circle cx="776.6" cy="527.7" r="1.1" fill="#fff" fill-opacity="0.6"/>
<circle cx="785" cy="527.8" r="1.1" fill="#fff" fill-opacity="0.6"/>
<circle cx="793.4" cy="527.8" r="1.1" fill="#fff" fill-opacity="0.6"/>
</g>
<g>
<path d="M125.8 977.8 L130.6 954.3 L134 925.1 L137.9 908 L140.6 897 L143 872.4 L145.3 897.5 L148 898.6 L151.5 899.4 L153.5 903 L154.6 911.4 L158.8 921.7 L161.4 934.5 L164.6 942.4 L168.2 954.5 L171.8 961.8 L175.4 969.7 L180.9 978.7 L185.1 983.6 L190 988.4 L194.8 992.1 L199.6 995.7 L205.1 998.1 L210.5 1001.7 L216 1004.2 L221.4 1006.6 L256.5 1015.5 L290.4 1020.3 L323.3 1025.2 L357.2 1028.1 L390.1 1031 L423.6 1033 L458.7 1034.2 L491.4 1036.6 L525.3 1036.6 L542.3 1035.4 L550.5 1038.5 L558.9 1038.6 L567.4 1038.8 L575.8 1038.9 L584.2 1039 L592.6 1039.1 L601.1 1039.3 L609.5 1039.4 L617.9 1039.5 L626.4 1039.6 L634.8 1039.8 L643.2 1039.9 L651.7 1040 L660.1 1040.1 L668.5 1040.1 L676.9 1040.2 L685.4 1040.2 L693.8 1040.3 L702.2 1040.4 L710.7 1040.4 L719.1 1040.5 L727.5 1040.5 L736 1040.6 L744.4 1040.7 L752.8 1040.7 L761.2 1040.8 L769.7 1040.8 L778.1 1040.9 L786.5 1040.9 L795 1041" fill="none" stroke="#1067AC" stroke-width="3.8" stroke-linejoin="round"/>
<circle cx="125.8" cy="977.8" r="4.1" fill="#1067AC"/>
<circle cx="130.6" cy="954.3" r="4.1" fill="#1067AC"/>
<circle cx="134" cy="925.1" r="4.1" fill="#1067AC"/>
<circle cx="137.9" cy="908" r="4.1" fill="#1067AC"/>
<circle cx="140.6" cy="897" r="4.1" fill="#1067AC"/>
<circle cx="143" cy="872.4" r="4.1" fill="#1067AC"/>
<circle cx="145.3" cy="897.5" r="4.1" fill="#1067AC"/>
<circle cx="148" cy="898.6" r="4.1" fill="#1067AC"/>
<circle cx="151.5" cy="899.4" r="4.1" fill="#1067AC"/>
<circle cx="153.5" cy="903" r="4.1" fill="#1067AC"/>
<circle cx="154.6" cy="911.4" r="4.1" fill="#1067AC"/>
<circle cx="158.8" cy="921.7" r="4.1" fill="#1067AC"/>
<circle cx="161.4" cy="934.5" r="4.1" fill="#1067AC"/>
<circle cx="164.6" cy="942.4" r="4.1" fill="#1067AC"/>
<circle cx="168.2" cy="954.5" r="4.1" fill="#1067AC"/>
<circle cx="171.8" cy="961.8" r="4.1" fill="#1067AC"/>
<circle cx="175.4" cy="969.7" r="4.1" fill="#1067AC"/>
<circle cx="180.9" cy="978.7" r="4.1" fill="#1067AC"/>
<circle cx="185.1" cy="983.6" r="4.1" fill="#1067AC"/>
<circle cx="190" cy="988.4" r="4.1" fill="#1067AC"/>
<circle cx="194.8" cy="992.1" r="4.1" fill="#1067AC"/>
<circle cx="199.6" cy="995.7" r="4.1" fill="#1067AC"/>
<circle cx="205.1" cy="998.1" r="4.1" fill="#1067AC"/>
<circle cx="210.5" cy="1001.7" r="4.1" fill="#1067AC"/>
<circle cx="216" cy="1004.2" r="4.1" fill="#1067AC"/>
<circle cx="221.4" cy="1006.6" r="4.1" fill="#1067AC"/>
<circle cx="256.5" cy="1015.5" r="4.1" fill="#1067AC"/>
<circle cx="290.4" cy="1020.3" r="4.1" fill="#1067AC"/>
<circle cx="323.3" cy="1025.2" r="4.1" fill="#1067AC"/>
<circle cx="357.2" cy="1028.1" r="4.1" fill="#1067AC"/>
<circle cx="390.1" cy="1031" r="4.1" fill="#1067AC"/>
<circle cx="423.6" cy="1033" r="4.1" fill="#1067AC"/>
<circle cx="458.7" cy="1034.2" r="4.1" fill="#1067AC"/>
<circle cx="491.4" cy="1036.6" r="4.1" fill="#1067AC"/>
<circle cx="525.3" cy="1036.6" r="4.1" fill="#1067AC"/>
<circle cx="542.3" cy="1035.4" r="4.1" fill="#1067AC"/>
<circle cx="550.5" cy="1038.5" r="4.1" fill="#1067AC"/>
<circle cx="558.9" cy="1038.6" r="4.1" fill="#1067AC"/>
<circle cx="567.4" cy="1038.8" r="4.1" fill="#1067AC"/>
<circle cx="575.8" cy="1038.9" r="4.1" fill="#1067AC"/>
<circle cx="584.2" cy="1039" r="4.1" fill="#1067AC"/>
<circle cx="592.6" cy="1039.1" r="4.1" fill="#1067AC"/>
<circle cx="601.1" cy="1039.3" r="4.1" fill="#1067AC"/>
<circle cx="609.5" cy="1039.4" r="4.1" fill="#1067AC"/>
<circle cx="617.9" cy="1039.5" r="4.1" fill="#1067AC"/>
<circle cx="626.4" cy="1039.6" r="4.1" fill="#1067AC"/>
<circle cx="634.8" cy="1039.8" r="4.1" fill="#1067AC"/>
<circle cx="643.2" cy="1039.9" r="4.1" fill="#1067AC"/>
<circle cx="651.7" cy="1040" r="4.1" fill="#1067AC"/>
<circle cx="660.1" cy="1040.1" r="4.1" fill="#1067AC"/>
<circle cx="668.5" cy="1040.1" r="4.1" fill="#1067AC"/>
<circle cx="676.9" cy="1040.2" r="4.1" fill="#1067AC"/>
<circle cx="685.4" cy="1040.2" r="4.1" fill="#1067AC"/>
<circle cx="693.8" cy="1040.3" r="4.1" fill="#1067AC"/>
<circle cx="702.2" cy="1040.4" r="4.1" fill="#1067AC"/>
<circle cx="710.7" cy="1040.4" r="4.1" fill="#1067AC"/>
<circle cx="719.1" cy="1040.5" r="4.1" fill="#1067AC"/>
<circle cx="727.5" cy="1040.5" r="4.1" fill="#1067AC"/>
<circle cx="736" cy="1040.6" r="4.1" fill="#1067AC"/>
<circle cx="744.4" cy="1040.7" r="4.1" fill="#1067AC"/>
<circle cx="752.8" cy="1040.7" r="4.1" fill="#1067AC"/>
<circle cx="761.2" cy="1040.8" r="4.1" fill="#1067AC"/>
<circle cx="769.7" cy="1040.8" r="4.1" fill="#1067AC"/>
<circle cx="778.1" cy="1040.9" r="4.1" fill="#1067AC"/>
<circle cx="786.5" cy="1040.9" r="4.1" fill="#1067AC"/>
<circle cx="795" cy="1041" r="4.1" fill="#1067AC"/>
<circle cx="124.6" cy="976.6" r="1.1" fill="#fff" fill-opacity="0.6"/>
<circle cx="129.4" cy="953.1" r="1.1" fill="#fff" fill-opacity="0.6"/>
<circle cx="132.8" cy="923.9" r="1.1" fill="#fff" fill-opacity="0.6"/>
<circle cx="136.7" cy="906.8" r="1.1" fill="#fff" fill-opacity="0.6"/>
<circle cx="139.4" cy="895.8" r="1.1" fill="#fff" fill-opacity="0.6"/>
<circle cx="141.8" cy="871.2" r="1.1" fill="#fff" fill-opacity="0.6"/>
<circle cx="144.1" cy="896.3" r="1.1" fill="#fff" fill-opacity="0.6"/>
<circle cx="146.8" cy="897.4" r="1.1" fill="#fff" fill-opacity="0.6"/>
<circle cx="150.3" cy="898.2" r="1.1" fill="#fff" fill-opacity="0.6"/>
<circle cx="152.3" cy="901.8" r="1.1" fill="#fff" fill-opacity="0.6"/>
<circle cx="153.4" cy="910.2" r="1.1" fill="#fff" fill-opacity="0.6"/>
<circle cx="157.6" cy="920.5" r="1.1" fill="#fff" fill-opacity="0.6"/>
<circle cx="160.2" cy="933.3" r="1.1" fill="#fff" fill-opacity="0.6"/>
<circle cx="163.4" cy="941.2" r="1.1" fill="#fff" fill-opacity="0.6"/>
<circle cx="167" cy="953.3" r="1.1" fill="#fff" fill-opacity="0.6"/>
<circle cx="170.6" cy="960.6" r="1.1" fill="#fff" fill-opacity="0.6"/>
<circle cx="174.2" cy="968.5" r="1.1" fill="#fff" fill-opacity="0.6"/>
<circle cx="179.7" cy="977.5" r="1.1" fill="#fff" fill-opacity="0.6"/>
<circle cx="183.9" cy="982.4" r="1.1" fill="#fff" fill-opacity="0.6"/>
<circle cx="188.8" cy="987.2" r="1.1" fill="#fff" fill-opacity="0.6"/>
<circle cx="193.6" cy="990.9" r="1.1" fill="#fff" fill-opacity="0.6"/>
<circle cx="198.4" cy="994.5" r="1.1" fill="#fff" fill-opacity="0.6"/>
<circle cx="203.9" cy="996.9" r="1.1" fill="#fff" fill-opacity="0.6"/>
<circle cx="209.3" cy="1000.5" r="1.1" fill="#fff" fill-opacity="0.6"/>
<circle cx="214.8" cy="1003" r="1.1" fill="#fff" fill-opacity="0.6"/>
<circle cx="220.2" cy="1005.4" r="1.1" fill="#fff" fill-opacity="0.6"/>
<circle cx="255.3" cy="1014.3" r="1.1" fill="#fff" fill-opacity="0.6"/>
<circle cx="289.2" cy="1019.1" r="1.1" fill="#fff" fill-opacity="0.6"/>
<circle cx="322.1" cy="1024" r="1.1" fill="#fff" fill-opacity="0.6"/>
<circle cx="356" cy="1026.9" r="1.1" fill="#fff" fill-opacity="0.6"/>
<circle cx="388.9" cy="1029.8" r="1.1" fill="#fff" fill-opacity="0.6"/>
<circle cx="422.4" cy="1031.8" r="1.1" fill="#fff" fill-opacity="0.6"/>
<circle cx="457.5" cy="1033" r="1.1" fill="#fff" fill-opacity="0.6"/>
<circle cx="490.2" cy="1035.4" r="1.1" fill="#fff" fill-opacity="0.6"/>
<circle cx="524.1" cy="1035.4" r="1.1" fill="#fff" fill-opacity="0.6"/>
<circle cx="541.1" cy="1034.2" r="1.1" fill="#fff" fill-opacity="0.6"/>
<circle cx="549.3" cy="1037.3" r="1.1" fill="#fff" fill-opacity="0.6"/>
<circle cx="557.7" cy="1037.4" r="1.1" fill="#fff" fill-opacity="0.6"/>
<circle cx="566.2" cy="1037.6" r="1.1" fill="#fff" fill-opacity="0.6"/>
<circle cx="574.6" cy="1037.7" r="1.1" fill="#fff" fill-opacity="0.6"/>
<circle cx="583" cy="1037.8" r="1.1" fill="#fff" fill-opacity="0.6"/>
<circle cx="591.4" cy="1037.9" r="1.1" fill="#fff" fill-opacity="0.6"/>
<circle cx="599.9" cy="1038.1" r="1.1" fill="#fff" fill-opacity="0.6"/>
<circle cx="608.3" cy="1038.2" r="1.1" fill="#fff" fill-opacity="0.6"/>
<circle cx="616.7" cy="1038.3" r="1.1" fill="#fff" fill-opacity="0.6"/>
<circle cx="625.2" cy="1038.4" r="1.1" fill="#fff" fill-opacity="0.6"/>
<circle cx="633.6" cy="1038.6" r="1.1" fill="#fff" fill-opacity="0.6"/>
<circle cx="642" cy="1038.7" r="1.1" fill="#fff" fill-opacity="0.6"/>
<circle cx="650.5" cy="1038.8" r="1.1" fill="#fff" fill-opacity="0.6"/>
<circle cx="658.9" cy="1038.9" r="1.1" fill="#fff" fill-opacity="0.6"/>
<circle cx="667.3" cy="1038.9" r="1.1" fill="#fff" fill-opacity="0.6"/>
<circle cx="675.7" cy="1039" r="1.1" fill="#fff" fill-opacity="0.6"/>
<circle cx="684.2" cy="1039" r="1.1" fill="#fff" fill-opacity="0.6"/>
<circle cx="692.6" cy="1039.1" r="1.1" fill="#fff" fill-opacity="0.6"/>
<circle cx="701" cy="1039.2" r="1.1" fill="#fff" fill-opacity="0.6"/>
<circle cx="709.5" cy="1039.2" r="1.1" fill="#fff" fill-opacity="0.6"/>
<circle cx="717.9" cy="1039.3" r="1.1" fill="#fff" fill-opacity="0.6"/>
<circle cx="726.3" cy="1039.3" r="1.1" fill="#fff" fill-opacity="0.6"/>
<circle cx="734.8" cy="1039.4" r="1.1" fill="#fff" fill-opacity="0.6"/>
<circle cx="743.2" cy="1039.5" r="1.1" fill="#fff" fill-opacity="0.6"/>
<circle cx="751.6" cy="1039.5" r="1.1" fill="#fff" fill-opacity="0.6"/>
<circle cx="760" cy="1039.6" r="1.1" fill="#fff" fill-opacity="0.6"/>
<circle cx="768.5" cy="1039.6" r="1.1" fill="#fff" fill-opacity="0.6"/>
<circle cx="776.9" cy="1039.7" r="1.1" fill="#fff" fill-opacity="0.6"/>
<circle cx="785.3" cy="1039.7" r="1.1" fill="#fff" fill-opacity="0.6"/>
<circle cx="793.8" cy="1039.8" r="1.1" fill="#fff" fill-opacity="0.6"/>
<path d="M125.8 985.6 L129.7 964.3 L134 944.8 L139 935.4 L141.3 914 L144 933 L147 933.5 L150.3 935.4 L154.7 944.8 L157.9 954.5 L161.5 964.2 L165.1 971.5 L168.2 980 L171.8 986 L174.8 992.1 L179.1 996.9 L182.7 1000.5 L187.5 1004.2 L193 1007.8 L198.4 1011.4 L204.5 1013.8 L210.5 1016.3 L216 1017.5 L221.4 1019.9 L256.5 1025.2 L289.4 1030 L323.3 1032.9 L357.2 1034.9 L390.1 1036.8 L423.6 1038.3 L458.7 1039.3 L491.4 1040.3 L525.3 1040.6 L542.3 1040.5 L550.5 1042 L558.9 1042.1 L567.4 1042.2 L575.8 1042.3 L584.2 1042.4 L592.6 1042.5 L601.1 1042.6 L609.5 1042.7 L617.9 1042.8 L626.4 1042.9 L634.8 1043 L643.2 1043.1 L651.7 1043.2 L660.1 1043.3 L668.5 1043.3 L676.9 1043.3 L685.4 1043.4 L693.8 1043.4 L702.2 1043.5 L710.7 1043.5 L719.1 1043.6 L727.5 1043.6 L736 1043.7 L744.4 1043.7 L752.8 1043.8 L761.2 1043.8 L769.7 1043.9 L778.1 1043.9 L786.5 1044 L795 1044" fill="none" stroke="#3DAAF0" stroke-width="3.8" stroke-linejoin="round"/>
<circle cx="125.8" cy="985.6" r="4.1" fill="#3DAAF0"/>
<circle cx="129.7" cy="964.3" r="4.1" fill="#3DAAF0"/>
<circle cx="134" cy="944.8" r="4.1" fill="#3DAAF0"/>
<circle cx="139" cy="935.4" r="4.1" fill="#3DAAF0"/>
<circle cx="141.3" cy="914" r="4.1" fill="#3DAAF0"/>
<circle cx="144" cy="933" r="4.1" fill="#3DAAF0"/>
<circle cx="147" cy="933.5" r="4.1" fill="#3DAAF0"/>
<circle cx="150.3" cy="935.4" r="4.1" fill="#3DAAF0"/>
<circle cx="154.7" cy="944.8" r="4.1" fill="#3DAAF0"/>
<circle cx="157.9" cy="954.5" r="4.1" fill="#3DAAF0"/>
<circle cx="161.5" cy="964.2" r="4.1" fill="#3DAAF0"/>
<circle cx="165.1" cy="971.5" r="4.1" fill="#3DAAF0"/>
<circle cx="168.2" cy="980" r="4.1" fill="#3DAAF0"/>
<circle cx="171.8" cy="986" r="4.1" fill="#3DAAF0"/>
<circle cx="174.8" cy="992.1" r="4.1" fill="#3DAAF0"/>
<circle cx="179.1" cy="996.9" r="4.1" fill="#3DAAF0"/>
<circle cx="182.7" cy="1000.5" r="4.1" fill="#3DAAF0"/>
<circle cx="187.5" cy="1004.2" r="4.1" fill="#3DAAF0"/>
<circle cx="193" cy="1007.8" r="4.1" fill="#3DAAF0"/>
<circle cx="198.4" cy="1011.4" r="4.1" fill="#3DAAF0"/>
<circle cx="204.5" cy="1013.8" r="4.1" fill="#3DAAF0"/>
<circle cx="210.5" cy="1016.3" r="4.1" fill="#3DAAF0"/>
<circle cx="216" cy="1017.5" r="4.1" fill="#3DAAF0"/>
<circle cx="221.4" cy="1019.9" r="4.1" fill="#3DAAF0"/>
<circle cx="256.5" cy="1025.2" r="4.1" fill="#3DAAF0"/>
<circle cx="289.4" cy="1030" r="4.1" fill="#3DAAF0"/>
<circle cx="323.3" cy="1032.9" r="4.1" fill="#3DAAF0"/>
<circle cx="357.2" cy="1034.9" r="4.1" fill="#3DAAF0"/>
<circle cx="390.1" cy="1036.8" r="4.1" fill="#3DAAF0"/>
<circle cx="423.6" cy="1038.3" r="4.1" fill="#3DAAF0"/>
<circle cx="458.7" cy="1039.3" r="4.1" fill="#3DAAF0"/>
<circle cx="491.4" cy="1040.3" r="4.1" fill="#3DAAF0"/>
<circle cx="525.3" cy="1040.6" r="4.1" fill="#3DAAF0"/>
<circle cx="542.3" cy="1040.5" r="4.1" fill="#3DAAF0"/>
<circle cx="550.5" cy="1042" r="4.1" fill="#3DAAF0"/>
<circle cx="558.9" cy="1042.1" r="4.1" fill="#3DAAF0"/>
<circle cx="567.4" cy="1042.2" r="4.1" fill="#3DAAF0"/>
<circle cx="575.8" cy="1042.3" r="4.1" fill="#3DAAF0"/>
<circle cx="584.2" cy="1042.4" r="4.1" fill="#3DAAF0"/>
<circle cx="592.6" cy="1042.5" r="4.1" fill="#3DAAF0"/>
<circle cx="601.1" cy="1042.6" r="4.1" fill="#3DAAF0"/>
<circle cx="609.5" cy="1042.7" r="4.1" fill="#3DAAF0"/>
<circle cx="617.9" cy="1042.8" r="4.1" fill="#3DAAF0"/>
<circle cx="626.4" cy="1042.9" r="4.1" fill="#3DAAF0"/>
<circle cx="634.8" cy="1043" r="4.1" fill="#3DAAF0"/>
<circle cx="643.2" cy="1043.1" r="4.1" fill="#3DAAF0"/>
<circle cx="651.7" cy="1043.2" r="4.1" fill="#3DAAF0"/>
<circle cx="660.1" cy="1043.3" r="4.1" fill="#3DAAF0"/>
<circle cx="668.5" cy="1043.3" r="4.1" fill="#3DAAF0"/>
<circle cx="676.9" cy="1043.3" r="4.1" fill="#3DAAF0"/>
<circle cx="685.4" cy="1043.4" r="4.1" fill="#3DAAF0"/>
<circle cx="693.8" cy="1043.4" r="4.1" fill="#3DAAF0"/>
<circle cx="702.2" cy="1043.5" r="4.1" fill="#3DAAF0"/>
<circle cx="710.7" cy="1043.5" r="4.1" fill="#3DAAF0"/>
<circle cx="719.1" cy="1043.6" r="4.1" fill="#3DAAF0"/>
<circle cx="727.5" cy="1043.6" r="4.1" fill="#3DAAF0"/>
<circle cx="736" cy="1043.7" r="4.1" fill="#3DAAF0"/>
<circle cx="744.4" cy="1043.7" r="4.1" fill="#3DAAF0"/>
<circle cx="752.8" cy="1043.8" r="4.1" fill="#3DAAF0"/>
<circle cx="761.2" cy="1043.8" r="4.1" fill="#3DAAF0"/>
<circle cx="769.7" cy="1043.9" r="4.1" fill="#3DAAF0"/>
<circle cx="778.1" cy="1043.9" r="4.1" fill="#3DAAF0"/>
<circle cx="786.5" cy="1044" r="4.1" fill="#3DAAF0"/>
<circle cx="795" cy="1044" r="4.1" fill="#3DAAF0"/>
<circle cx="124.6" cy="984.4" r="1.1" fill="#fff" fill-opacity="0.6"/>
<circle cx="128.5" cy="963.1" r="1.1" fill="#fff" fill-opacity="0.6"/>
<circle cx="132.8" cy="943.6" r="1.1" fill="#fff" fill-opacity="0.6"/>
<circle cx="137.8" cy="934.2" r="1.1" fill="#fff" fill-opacity="0.6"/>
<circle cx="140.1" cy="912.8" r="1.1" fill="#fff" fill-opacity="0.6"/>
<circle cx="142.8" cy="931.8" r="1.1" fill="#fff" fill-opacity="0.6"/>
<circle cx="145.8" cy="932.3" r="1.1" fill="#fff" fill-opacity="0.6"/>
<circle cx="149.1" cy="934.2" r="1.1" fill="#fff" fill-opacity="0.6"/>
<circle cx="153.5" cy="943.6" r="1.1" fill="#fff" fill-opacity="0.6"/>
<circle cx="156.7" cy="953.3" r="1.1" fill="#fff" fill-opacity="0.6"/>
<circle cx="160.3" cy="963" r="1.1" fill="#fff" fill-opacity="0.6"/>
<circle cx="163.9" cy="970.3" r="1.1" fill="#fff" fill-opacity="0.6"/>
<circle cx="167" cy="978.8" r="1.1" fill="#fff" fill-opacity="0.6"/>
<circle cx="170.6" cy="984.8" r="1.1" fill="#fff" fill-opacity="0.6"/>
<circle cx="173.6" cy="990.9" r="1.1" fill="#fff" fill-opacity="0.6"/>
<circle cx="177.9" cy="995.7" r="1.1" fill="#fff" fill-opacity="0.6"/>
<circle cx="181.5" cy="999.3" r="1.1" fill="#fff" fill-opacity="0.6"/>
<circle cx="186.3" cy="1003" r="1.1" fill="#fff" fill-opacity="0.6"/>
<circle cx="191.8" cy="1006.6" r="1.1" fill="#fff" fill-opacity="0.6"/>
<circle cx="197.2" cy="1010.2" r="1.1" fill="#fff" fill-opacity="0.6"/>
<circle cx="203.3" cy="1012.6" r="1.1" fill="#fff" fill-opacity="0.6"/>
<circle cx="209.3" cy="1015.1" r="1.1" fill="#fff" fill-opacity="0.6"/>
<circle cx="214.8" cy="1016.3" r="1.1" fill="#fff" fill-opacity="0.6"/>
<circle cx="220.2" cy="1018.7" r="1.1" fill="#fff" fill-opacity="0.6"/>
<circle cx="255.3" cy="1024" r="1.1" fill="#fff" fill-opacity="0.6"/>
<circle cx="288.2" cy="1028.8" r="1.1" fill="#fff" fill-opacity="0.6"/>
<circle cx="322.1" cy="1031.7" r="1.1" fill="#fff" fill-opacity="0.6"/>
<circle cx="356" cy="1033.7" r="1.1" fill="#fff" fill-opacity="0.6"/>
<circle cx="388.9" cy="1035.6" r="1.1" fill="#fff" fill-opacity="0.6"/>
<circle cx="422.4" cy="1037.1" r="1.1" fill="#fff" fill-opacity="0.6"/>
<circle cx="457.5" cy="1038.1" r="1.1" fill="#fff" fill-opacity="0.6"/>
<circle cx="490.2" cy="1039.1" r="1.1" fill="#fff" fill-opacity="0.6"/>
<circle cx="524.1" cy="1039.4" r="1.1" fill="#fff" fill-opacity="0.6"/>
<circle cx="541.1" cy="1039.3" r="1.1" fill="#fff" fill-opacity="0.6"/>
<circle cx="549.3" cy="1040.8" r="1.1" fill="#fff" fill-opacity="0.6"/>
<circle cx="557.7" cy="1040.9" r="1.1" fill="#fff" fill-opacity="0.6"/>
<circle cx="566.2" cy="1041" r="1.1" fill="#fff" fill-opacity="0.6"/>
<circle cx="574.6" cy="1041.1" r="1.1" fill="#fff" fill-opacity="0.6"/>
<circle cx="583" cy="1041.2" r="1.1" fill="#fff" fill-opacity="0.6"/>
<circle cx="591.4" cy="1041.3" r="1.1" fill="#fff" fill-opacity="0.6"/>
<circle cx="599.9" cy="1041.4" r="1.1" fill="#fff" fill-opacity="0.6"/>
<circle cx="608.3" cy="1041.5" r="1.1" fill="#fff" fill-opacity="0.6"/>
<circle cx="616.7" cy="1041.6" r="1.1" fill="#fff" fill-opacity="0.6"/>
<circle cx="625.2" cy="1041.7" r="1.1" fill="#fff" fill-opacity="0.6"/>
<circle cx="633.6" cy="1041.8" r="1.1" fill="#fff" fill-opacity="0.6"/>
<circle cx="642" cy="1041.9" r="1.1" fill="#fff" fill-opacity="0.6"/>
<circle cx="650.5" cy="1042" r="1.1" fill="#fff" fill-opacity="0.6"/>
<circle cx="658.9" cy="1042.1" r="1.1" fill="#fff" fill-opacity="0.6"/>
<circle cx="667.3" cy="1042.1" r="1.1" fill="#fff" fill-opacity="0.6"/>
<circle cx="675.7" cy="1042.1" r="1.1" fill="#fff" fill-opacity="0.6"/>
<circle cx="684.2" cy="1042.2" r="1.1" fill="#fff" fill-opacity="0.6"/>
<circle cx="692.6" cy="1042.2" r="1.1" fill="#fff" fill-opacity="0.6"/>
<circle cx="701" cy="1042.3" r="1.1" fill="#fff" fill-opacity="0.6"/>
<circle cx="709.5" cy="1042.3" r="1.1" fill="#fff" fill-opacity="0.6"/>
<circle cx="717.9" cy="1042.4" r="1.1" fill="#fff" fill-opacity="0.6"/>
<circle cx="726.3" cy="1042.4" r="1.1" fill="#fff" fill-opacity="0.6"/>
<circle cx="734.8" cy="1042.5" r="1.1" fill="#fff" fill-opacity="0.6"/>
<circle cx="743.2" cy="1042.5" r="1.1" fill="#fff" fill-opacity="0.6"/>
<circle cx="751.6" cy="1042.6" r="1.1" fill="#fff" fill-opacity="0.6"/>
<circle cx="760" cy="1042.6" r="1.1" fill="#fff" fill-opacity="0.6"/>
<circle cx="768.5" cy="1042.7" r="1.1" fill="#fff" fill-opacity="0.6"/>
<circle cx="776.9" cy="1042.7" r="1.1" fill="#fff" fill-opacity="0.6"/>
<circle cx="785.3" cy="1042.8" r="1.1" fill="#fff" fill-opacity="0.6"/>
<circle cx="793.8" cy="1042.8" r="1.1" fill="#fff" fill-opacity="0.6"/>
<path d="M125.8 995.3 L131.6 985.6 L137.4 977.8 L143.2 969.1 L146 975 L149 979.8 L152.4 980 L156.1 988.4 L159.1 994.5 L162.1 999.3 L165.1 1004.2 L169.4 1009 L173 1013.8 L177.8 1017.5 L182.7 1021.1 L188.7 1024.7 L194.8 1027.2 L200.8 1029.6 L206.9 1030.8 L213 1032 L220.2 1033.2 L256.5 1035.8 L289.4 1037.8 L323.3 1039 L357.2 1040 L390.1 1040.7 L423.6 1041.5 L458.7 1042.3 L491.4 1043 L525.3 1043.3 L542.3 1043.5 L550.5 1044.5 L558.9 1044.6 L567.4 1044.6 L575.8 1044.7 L584.2 1044.7 L592.6 1044.8 L601.1 1044.8 L609.5 1044.9 L617.9 1044.9 L626.4 1045 L634.8 1045 L643.2 1045.1 L651.7 1045.1 L660.1 1045.2 L668.5 1045.2 L676.9 1045.3 L685.4 1045.3 L693.8 1045.4 L702.2 1045.4 L710.7 1045.5 L719.1 1045.5 L727.5 1045.6 L736 1045.6 L744.4 1045.7 L752.8 1045.7 L761.2 1045.8 L769.7 1045.8 L778.1 1045.9 L786.5 1045.9 L795 1046" fill="none" stroke="#8A9CF6" stroke-width="3.8" stroke-linejoin="round"/>
<circle cx="125.8" cy="995.3" r="4.1" fill="#8A9CF6"/>
<circle cx="131.6" cy="985.6" r="4.1" fill="#8A9CF6"/>
<circle cx="137.4" cy="977.8" r="4.1" fill="#8A9CF6"/>
<circle cx="143.2" cy="969.1" r="4.1" fill="#8A9CF6"/>
<circle cx="146" cy="975" r="4.1" fill="#8A9CF6"/>
<circle cx="149" cy="979.8" r="4.1" fill="#8A9CF6"/>
<circle cx="152.4" cy="980" r="4.1" fill="#8A9CF6"/>
<circle cx="156.1" cy="988.4" r="4.1" fill="#8A9CF6"/>
<circle cx="159.1" cy="994.5" r="4.1" fill="#8A9CF6"/>
<circle cx="162.1" cy="999.3" r="4.1" fill="#8A9CF6"/>
<circle cx="165.1" cy="1004.2" r="4.1" fill="#8A9CF6"/>
<circle cx="169.4" cy="1009" r="4.1" fill="#8A9CF6"/>
<circle cx="173" cy="1013.8" r="4.1" fill="#8A9CF6"/>
<circle cx="177.8" cy="1017.5" r="4.1" fill="#8A9CF6"/>
<circle cx="182.7" cy="1021.1" r="4.1" fill="#8A9CF6"/>
<circle cx="188.7" cy="1024.7" r="4.1" fill="#8A9CF6"/>
<circle cx="194.8" cy="1027.2" r="4.1" fill="#8A9CF6"/>
<circle cx="200.8" cy="1029.6" r="4.1" fill="#8A9CF6"/>
<circle cx="206.9" cy="1030.8" r="4.1" fill="#8A9CF6"/>
<circle cx="213" cy="1032" r="4.1" fill="#8A9CF6"/>
<circle cx="220.2" cy="1033.2" r="4.1" fill="#8A9CF6"/>
<circle cx="256.5" cy="1035.8" r="4.1" fill="#8A9CF6"/>
<circle cx="289.4" cy="1037.8" r="4.1" fill="#8A9CF6"/>
<circle cx="323.3" cy="1039" r="4.1" fill="#8A9CF6"/>
<circle cx="357.2" cy="1040" r="4.1" fill="#8A9CF6"/>
<circle cx="390.1" cy="1040.7" r="4.1" fill="#8A9CF6"/>
<circle cx="423.6" cy="1041.5" r="4.1" fill="#8A9CF6"/>
<circle cx="458.7" cy="1042.3" r="4.1" fill="#8A9CF6"/>
<circle cx="491.4" cy="1043" r="4.1" fill="#8A9CF6"/>
<circle cx="525.3" cy="1043.3" r="4.1" fill="#8A9CF6"/>
<circle cx="542.3" cy="1043.5" r="4.1" fill="#8A9CF6"/>
<circle cx="550.5" cy="1044.5" r="4.1" fill="#8A9CF6"/>
<circle cx="558.9" cy="1044.6" r="4.1" fill="#8A9CF6"/>
<circle cx="567.4" cy="1044.6" r="4.1" fill="#8A9CF6"/>
<circle cx="575.8" cy="1044.7" r="4.1" fill="#8A9CF6"/>
<circle cx="584.2" cy="1044.7" r="4.1" fill="#8A9CF6"/>
<circle cx="592.6" cy="1044.8" r="4.1" fill="#8A9CF6"/>
<circle cx="601.1" cy="1044.8" r="4.1" fill="#8A9CF6"/>
<circle cx="609.5" cy="1044.9" r="4.1" fill="#8A9CF6"/>
<circle cx="617.9" cy="1044.9" r="4.1" fill="#8A9CF6"/>
<circle cx="626.4" cy="1045" r="4.1" fill="#8A9CF6"/>
<circle cx="634.8" cy="1045" r="4.1" fill="#8A9CF6"/>
<circle cx="643.2" cy="1045.1" r="4.1" fill="#8A9CF6"/>
<circle cx="651.7" cy="1045.1" r="4.1" fill="#8A9CF6"/>
<circle cx="660.1" cy="1045.2" r="4.1" fill="#8A9CF6"/>
<circle cx="668.5" cy="1045.2" r="4.1" fill="#8A9CF6"/>
<circle cx="676.9" cy="1045.3" r="4.1" fill="#8A9CF6"/>
<circle cx="685.4" cy="1045.3" r="4.1" fill="#8A9CF6"/>
<circle cx="693.8" cy="1045.4" r="4.1" fill="#8A9CF6"/>
<circle cx="702.2" cy="1045.4" r="4.1" fill="#8A9CF6"/>
<circle cx="710.7" cy="1045.5" r="4.1" fill="#8A9CF6"/>
<circle cx="719.1" cy="1045.5" r="4.1" fill="#8A9CF6"/>
<circle cx="727.5" cy="1045.6" r="4.1" fill="#8A9CF6"/>
<circle cx="736" cy="1045.6" r="4.1" fill="#8A9CF6"/>
<circle cx="744.4" cy="1045.7" r="4.1" fill="#8A9CF6"/>
<circle cx="752.8" cy="1045.7" r="4.1" fill="#8A9CF6"/>
<circle cx="761.2" cy="1045.8" r="4.1" fill="#8A9CF6"/>
<circle cx="769.7" cy="1045.8" r="4.1" fill="#8A9CF6"/>
<circle cx="778.1" cy="1045.9" r="4.1" fill="#8A9CF6"/>
<circle cx="786.5" cy="1045.9" r="4.1" fill="#8A9CF6"/>
<circle cx="795" cy="1046" r="4.1" fill="#8A9CF6"/>
<circle cx="124.6" cy="994.1" r="1.1" fill="#fff" fill-opacity="0.6"/>
<circle cx="130.4" cy="984.4" r="1.1" fill="#fff" fill-opacity="0.6"/>
<circle cx="136.2" cy="976.6" r="1.1" fill="#fff" fill-opacity="0.6"/>
<circle cx="142" cy="967.9" r="1.1" fill="#fff" fill-opacity="0.6"/>
<circle cx="144.8" cy="973.8" r="1.1" fill="#fff" fill-opacity="0.6"/>
<circle cx="147.8" cy="978.6" r="1.1" fill="#fff" fill-opacity="0.6"/>
<circle cx="151.2" cy="978.8" r="1.1" fill="#fff" fill-opacity="0.6"/>
<circle cx="154.9" cy="987.2" r="1.1" fill="#fff" fill-opacity="0.6"/>
<circle cx="157.9" cy="993.3" r="1.1" fill="#fff" fill-opacity="0.6"/>
<circle cx="160.9" cy="998.1" r="1.1" fill="#fff" fill-opacity="0.6"/>
<circle cx="163.9" cy="1003" r="1.1" fill="#fff" fill-opacity="0.6"/>
<circle cx="168.2" cy="1007.8" r="1.1" fill="#fff" fill-opacity="0.6"/>
<circle cx="171.8" cy="1012.6" r="1.1" fill="#fff" fill-opacity="0.6"/>
<circle cx="176.6" cy="1016.3" r="1.1" fill="#fff" fill-opacity="0.6"/>
<circle cx="181.5" cy="1019.9" r="1.1" fill="#fff" fill-opacity="0.6"/>
<circle cx="187.5" cy="1023.5" r="1.1" fill="#fff" fill-opacity="0.6"/>
<circle cx="193.6" cy="1026" r="1.1" fill="#fff" fill-opacity="0.6"/>
<circle cx="199.6" cy="1028.4" r="1.1" fill="#fff" fill-opacity="0.6"/>
<circle cx="205.7" cy="1029.6" r="1.1" fill="#fff" fill-opacity="0.6"/>
<circle cx="211.8" cy="1030.8" r="1.1" fill="#fff" fill-opacity="0.6"/>
<circle cx="219" cy="1032" r="1.1" fill="#fff" fill-opacity="0.6"/>
<circle cx="255.3" cy="1034.6" r="1.1" fill="#fff" fill-opacity="0.6"/>
<circle cx="288.2" cy="1036.6" r="1.1" fill="#fff" fill-opacity="0.6"/>
<circle cx="322.1" cy="1037.8" r="1.1" fill="#fff" fill-opacity="0.6"/>
<circle cx="356" cy="1038.8" r="1.1" fill="#fff" fill-opacity="0.6"/>
<circle cx="388.9" cy="1039.5" r="1.1" fill="#fff" fill-opacity="0.6"/>
<circle cx="422.4" cy="1040.3" r="1.1" fill="#fff" fill-opacity="0.6"/>
<circle cx="457.5" cy="1041.1" r="1.1" fill="#fff" fill-opacity="0.6"/>
<circle cx="490.2" cy="1041.8" r="1.1" fill="#fff" fill-opacity="0.6"/>
<circle cx="524.1" cy="1042.1" r="1.1" fill="#fff" fill-opacity="0.6"/>
<circle cx="541.1" cy="1042.3" r="1.1" fill="#fff" fill-opacity="0.6"/>
<circle cx="549.3" cy="1043.3" r="1.1" fill="#fff" fill-opacity="0.6"/>
<circle cx="557.7" cy="1043.4" r="1.1" fill="#fff" fill-opacity="0.6"/>
<circle cx="566.2" cy="1043.4" r="1.1" fill="#fff" fill-opacity="0.6"/>
<circle cx="574.6" cy="1043.5" r="1.1" fill="#fff" fill-opacity="0.6"/>
<circle cx="583" cy="1043.5" r="1.1" fill="#fff" fill-opacity="0.6"/>
<circle cx="591.4" cy="1043.6" r="1.1" fill="#fff" fill-opacity="0.6"/>
<circle cx="599.9" cy="1043.6" r="1.1" fill="#fff" fill-opacity="0.6"/>
<circle cx="608.3" cy="1043.7" r="1.1" fill="#fff" fill-opacity="0.6"/>
<circle cx="616.7" cy="1043.7" r="1.1" fill="#fff" fill-opacity="0.6"/>
<circle cx="625.2" cy="1043.8" r="1.1" fill="#fff" fill-opacity="0.6"/>
<circle cx="633.6" cy="1043.8" r="1.1" fill="#fff" fill-opacity="0.6"/>
<circle cx="642" cy="1043.9" r="1.1" fill="#fff" fill-opacity="0.6"/>
<circle cx="650.5" cy="1043.9" r="1.1" fill="#fff" fill-opacity="0.6"/>
<circle cx="658.9" cy="1044" r="1.1" fill="#fff" fill-opacity="0.6"/>
<circle cx="667.3" cy="1044" r="1.1" fill="#fff" fill-opacity="0.6"/>
<circle cx="675.7" cy="1044.1" r="1.1" fill="#fff" fill-opacity="0.6"/>
<circle cx="684.2" cy="1044.1" r="1.1" fill="#fff" fill-opacity="0.6"/>
<circle cx="692.6" cy="1044.2" r="1.1" fill="#fff" fill-opacity="0.6"/>
<circle cx="701" cy="1044.2" r="1.1" fill="#fff" fill-opacity="0.6"/>
<circle cx="709.5" cy="1044.3" r="1.1" fill="#fff" fill-opacity="0.6"/>
<circle cx="717.9" cy="1044.3" r="1.1" fill="#fff" fill-opacity="0.6"/>
<circle cx="726.3" cy="1044.4" r="1.1" fill="#fff" fill-opacity="0.6"/>
<circle cx="734.8" cy="1044.4" r="1.1" fill="#fff" fill-opacity="0.6"/>
<circle cx="743.2" cy="1044.5" r="1.1" fill="#fff" fill-opacity="0.6"/>
<circle cx="751.6" cy="1044.5" r="1.1" fill="#fff" fill-opacity="0.6"/>
<circle cx="760" cy="1044.6" r="1.1" fill="#fff" fill-opacity="0.6"/>
<circle cx="768.5" cy="1044.6" r="1.1" fill="#fff" fill-opacity="0.6"/>
<circle cx="776.9" cy="1044.7" r="1.1" fill="#fff" fill-opacity="0.6"/>
<circle cx="785.3" cy="1044.7" r="1.1" fill="#fff" fill-opacity="0.6"/>
<circle cx="793.8" cy="1044.8" r="1.1" fill="#fff" fill-opacity="0.6"/>
<path d="M125.8 1019.5 L128.7 1014.5 L131.3 1012.4 L134.2 1017 L136.3 1020.5 L138 1023.2 L141.1 1027.1 L144.2 1030.9 L146.5 1034 L150.4 1027.1 L154.2 1021.7 L156.5 1020.9 L159.6 1024 L163.5 1027.1 L167.3 1029.4 L172 1033.2 L175.8 1036.3 L180 1037.4 L185.1 1038.6 L192.4 1039.6 L199.6 1040.6 L206.9 1041.1 L214.2 1041.7 L221.4 1042.3 L256.5 1042.8 L289.4 1043.2 L323.3 1043.4 L357.2 1043.5 L390.1 1043.6 L423.6 1044.5 L458.7 1045 L491.4 1045.5 L525.3 1045.8 L542.3 1046 L550.5 1046.8 L558.9 1046.9 L567.4 1046.9 L575.8 1047 L584.2 1047.1 L592.6 1047.1 L601.1 1047.2 L609.5 1047.3 L617.9 1047.3 L626.4 1047.4 L634.8 1047.5 L643.2 1047.5 L651.7 1047.6 L660.1 1047.6 L668.5 1047.6 L676.9 1047.6 L685.4 1047.6 L693.8 1047.7 L702.2 1047.7 L710.7 1047.7 L719.1 1047.7 L727.5 1047.7 L736 1047.7 L744.4 1047.7 L752.8 1047.7 L761.2 1047.8 L769.7 1047.8 L778.1 1047.8 L786.5 1047.8 L795 1047.8" fill="none" stroke="#5A6CF2" stroke-width="3.8" stroke-linejoin="round"/>
<circle cx="125.8" cy="1019.5" r="4.1" fill="#5A6CF2"/>
<circle cx="128.7" cy="1014.5" r="4.1" fill="#5A6CF2"/>
<circle cx="131.3" cy="1012.4" r="4.1" fill="#5A6CF2"/>
<circle cx="134.2" cy="1017" r="4.1" fill="#5A6CF2"/>
<circle cx="136.3" cy="1020.5" r="4.1" fill="#5A6CF2"/>
<circle cx="138" cy="1023.2" r="4.1" fill="#5A6CF2"/>
<circle cx="141.1" cy="1027.1" r="4.1" fill="#5A6CF2"/>
<circle cx="144.2" cy="1030.9" r="4.1" fill="#5A6CF2"/>
<circle cx="146.5" cy="1034" r="4.1" fill="#5A6CF2"/>
<circle cx="150.4" cy="1027.1" r="4.1" fill="#5A6CF2"/>
<circle cx="154.2" cy="1021.7" r="4.1" fill="#5A6CF2"/>
<circle cx="156.5" cy="1020.9" r="4.1" fill="#5A6CF2"/>
<circle cx="159.6" cy="1024" r="4.1" fill="#5A6CF2"/>
<circle cx="163.5" cy="1027.1" r="4.1" fill="#5A6CF2"/>
<circle cx="167.3" cy="1029.4" r="4.1" fill="#5A6CF2"/>
<circle cx="172" cy="1033.2" r="4.1" fill="#5A6CF2"/>
<circle cx="175.8" cy="1036.3" r="4.1" fill="#5A6CF2"/>
<circle cx="180" cy="1037.4" r="4.1" fill="#5A6CF2"/>
<circle cx="185.1" cy="1038.6" r="4.1" fill="#5A6CF2"/>
<circle cx="192.4" cy="1039.6" r="4.1" fill="#5A6CF2"/>
<circle cx="199.6" cy="1040.6" r="4.1" fill="#5A6CF2"/>
<circle cx="206.9" cy="1041.1" r="4.1" fill="#5A6CF2"/>
<circle cx="214.2" cy="1041.7" r="4.1" fill="#5A6CF2"/>
<circle cx="221.4" cy="1042.3" r="4.1" fill="#5A6CF2"/>
<circle cx="256.5" cy="1042.8" r="4.1" fill="#5A6CF2"/>
<circle cx="289.4" cy="1043.2" r="4.1" fill="#5A6CF2"/>
<circle cx="323.3" cy="1043.4" r="4.1" fill="#5A6CF2"/>
<circle cx="357.2" cy="1043.5" r="4.1" fill="#5A6CF2"/>
<circle cx="390.1" cy="1043.6" r="4.1" fill="#5A6CF2"/>
<circle cx="423.6" cy="1044.5" r="4.1" fill="#5A6CF2"/>
<circle cx="458.7" cy="1045" r="4.1" fill="#5A6CF2"/>
<circle cx="491.4" cy="1045.5" r="4.1" fill="#5A6CF2"/>
<circle cx="525.3" cy="1045.8" r="4.1" fill="#5A6CF2"/>
<circle cx="542.3" cy="1046" r="4.1" fill="#5A6CF2"/>
<circle cx="550.5" cy="1046.8" r="4.1" fill="#5A6CF2"/>
<circle cx="558.9" cy="1046.9" r="4.1" fill="#5A6CF2"/>
<circle cx="567.4" cy="1046.9" r="4.1" fill="#5A6CF2"/>
<circle cx="575.8" cy="1047" r="4.1" fill="#5A6CF2"/>
<circle cx="584.2" cy="1047.1" r="4.1" fill="#5A6CF2"/>
<circle cx="592.6" cy="1047.1" r="4.1" fill="#5A6CF2"/>
<circle cx="601.1" cy="1047.2" r="4.1" fill="#5A6CF2"/>
<circle cx="609.5" cy="1047.3" r="4.1" fill="#5A6CF2"/>
<circle cx="617.9" cy="1047.3" r="4.1" fill="#5A6CF2"/>
<circle cx="626.4" cy="1047.4" r="4.1" fill="#5A6CF2"/>
<circle cx="634.8" cy="1047.5" r="4.1" fill="#5A6CF2"/>
<circle cx="643.2" cy="1047.5" r="4.1" fill="#5A6CF2"/>
<circle cx="651.7" cy="1047.6" r="4.1" fill="#5A6CF2"/>
<circle cx="660.1" cy="1047.6" r="4.1" fill="#5A6CF2"/>
<circle cx="668.5" cy="1047.6" r="4.1" fill="#5A6CF2"/>
<circle cx="676.9" cy="1047.6" r="4.1" fill="#5A6CF2"/>
<circle cx="685.4" cy="1047.6" r="4.1" fill="#5A6CF2"/>
<circle cx="693.8" cy="1047.7" r="4.1" fill="#5A6CF2"/>
<circle cx="702.2" cy="1047.7" r="4.1" fill="#5A6CF2"/>
<circle cx="710.7" cy="1047.7" r="4.1" fill="#5A6CF2"/>
<circle cx="719.1" cy="1047.7" r="4.1" fill="#5A6CF2"/>
<circle cx="727.5" cy="1047.7" r="4.1" fill="#5A6CF2"/>
<circle cx="736" cy="1047.7" r="4.1" fill="#5A6CF2"/>
<circle cx="744.4" cy="1047.7" r="4.1" fill="#5A6CF2"/>
<circle cx="752.8" cy="1047.7" r="4.1" fill="#5A6CF2"/>
<circle cx="761.2" cy="1047.8" r="4.1" fill="#5A6CF2"/>
<circle cx="769.7" cy="1047.8" r="4.1" fill="#5A6CF2"/>
<circle cx="778.1" cy="1047.8" r="4.1" fill="#5A6CF2"/>
<circle cx="786.5" cy="1047.8" r="4.1" fill="#5A6CF2"/>
<circle cx="795" cy="1047.8" r="4.1" fill="#5A6CF2"/>
<circle cx="124.6" cy="1018.3" r="1.1" fill="#fff" fill-opacity="0.6"/>
<circle cx="127.5" cy="1013.3" r="1.1" fill="#fff" fill-opacity="0.6"/>
<circle cx="130.1" cy="1011.2" r="1.1" fill="#fff" fill-opacity="0.6"/>
<circle cx="133" cy="1015.8" r="1.1" fill="#fff" fill-opacity="0.6"/>
<circle cx="135.1" cy="1019.3" r="1.1" fill="#fff" fill-opacity="0.6"/>
<circle cx="136.8" cy="1022" r="1.1" fill="#fff" fill-opacity="0.6"/>
<circle cx="139.9" cy="1025.9" r="1.1" fill="#fff" fill-opacity="0.6"/>
<circle cx="143" cy="1029.7" r="1.1" fill="#fff" fill-opacity="0.6"/>
<circle cx="145.3" cy="1032.8" r="1.1" fill="#fff" fill-opacity="0.6"/>
<circle cx="149.2" cy="1025.9" r="1.1" fill="#fff" fill-opacity="0.6"/>
<circle cx="153" cy="1020.5" r="1.1" fill="#fff" fill-opacity="0.6"/>
<circle cx="155.3" cy="1019.7" r="1.1" fill="#fff" fill-opacity="0.6"/>
<circle cx="158.4" cy="1022.8" r="1.1" fill="#fff" fill-opacity="0.6"/>
<circle cx="162.3" cy="1025.9" r="1.1" fill="#fff" fill-opacity="0.6"/>
<circle cx="166.1" cy="1028.2" r="1.1" fill="#fff" fill-opacity="0.6"/>
<circle cx="170.8" cy="1032" r="1.1" fill="#fff" fill-opacity="0.6"/>
<circle cx="174.6" cy="1035.1" r="1.1" fill="#fff" fill-opacity="0.6"/>
<circle cx="178.8" cy="1036.2" r="1.1" fill="#fff" fill-opacity="0.6"/>
<circle cx="183.9" cy="1037.4" r="1.1" fill="#fff" fill-opacity="0.6"/>
<circle cx="191.2" cy="1038.4" r="1.1" fill="#fff" fill-opacity="0.6"/>
<circle cx="198.4" cy="1039.4" r="1.1" fill="#fff" fill-opacity="0.6"/>
<circle cx="205.7" cy="1039.9" r="1.1" fill="#fff" fill-opacity="0.6"/>
<circle cx="213" cy="1040.5" r="1.1" fill="#fff" fill-opacity="0.6"/>
<circle cx="220.2" cy="1041.1" r="1.1" fill="#fff" fill-opacity="0.6"/>
<circle cx="255.3" cy="1041.6" r="1.1" fill="#fff" fill-opacity="0.6"/>
<circle cx="288.2" cy="1042" r="1.1" fill="#fff" fill-opacity="0.6"/>
<circle cx="322.1" cy="1042.2" r="1.1" fill="#fff" fill-opacity="0.6"/>
<circle cx="356" cy="1042.3" r="1.1" fill="#fff" fill-opacity="0.6"/>
<circle cx="388.9" cy="1042.4" r="1.1" fill="#fff" fill-opacity="0.6"/>
<circle cx="422.4" cy="1043.3" r="1.1" fill="#fff" fill-opacity="0.6"/>
<circle cx="457.5" cy="1043.8" r="1.1" fill="#fff" fill-opacity="0.6"/>
<circle cx="490.2" cy="1044.3" r="1.1" fill="#fff" fill-opacity="0.6"/>
<circle cx="524.1" cy="1044.6" r="1.1" fill="#fff" fill-opacity="0.6"/>
<circle cx="541.1" cy="1044.8" r="1.1" fill="#fff" fill-opacity="0.6"/>
<circle cx="549.3" cy="1045.6" r="1.1" fill="#fff" fill-opacity="0.6"/>
<circle cx="557.7" cy="1045.7" r="1.1" fill="#fff" fill-opacity="0.6"/>
<circle cx="566.2" cy="1045.7" r="1.1" fill="#fff" fill-opacity="0.6"/>
<circle cx="574.6" cy="1045.8" r="1.1" fill="#fff" fill-opacity="0.6"/>
<circle cx="583" cy="1045.9" r="1.1" fill="#fff" fill-opacity="0.6"/>
<circle cx="591.4" cy="1045.9" r="1.1" fill="#fff" fill-opacity="0.6"/>
<circle cx="599.9" cy="1046" r="1.1" fill="#fff" fill-opacity="0.6"/>
<circle cx="608.3" cy="1046.1" r="1.1" fill="#fff" fill-opacity="0.6"/>
<circle cx="616.7" cy="1046.1" r="1.1" fill="#fff" fill-opacity="0.6"/>
<circle cx="625.2" cy="1046.2" r="1.1" fill="#fff" fill-opacity="0.6"/>
<circle cx="633.6" cy="1046.3" r="1.1" fill="#fff" fill-opacity="0.6"/>
<circle cx="642" cy="1046.3" r="1.1" fill="#fff" fill-opacity="0.6"/>
<circle cx="650.5" cy="1046.4" r="1.1" fill="#fff" fill-opacity="0.6"/>
<circle cx="658.9" cy="1046.4" r="1.1" fill="#fff" fill-opacity="0.6"/>
<circle cx="667.3" cy="1046.4" r="1.1" fill="#fff" fill-opacity="0.6"/>
<circle cx="675.7" cy="1046.4" r="1.1" fill="#fff" fill-opacity="0.6"/>
<circle cx="684.2" cy="1046.4" r="1.1" fill="#fff" fill-opacity="0.6"/>
<circle cx="692.6" cy="1046.5" r="1.1" fill="#fff" fill-opacity="0.6"/>
<circle cx="701" cy="1046.5" r="1.1" fill="#fff" fill-opacity="0.6"/>
<circle cx="709.5" cy="1046.5" r="1.1" fill="#fff" fill-opacity="0.6"/>
<circle cx="717.9" cy="1046.5" r="1.1" fill="#fff" fill-opacity="0.6"/>
<circle cx="726.3" cy="1046.5" r="1.1" fill="#fff" fill-opacity="0.6"/>
<circle cx="734.8" cy="1046.5" r="1.1" fill="#fff" fill-opacity="0.6"/>
<circle cx="743.2" cy="1046.5" r="1.1" fill="#fff" fill-opacity="0.6"/>
<circle cx="751.6" cy="1046.5" r="1.1" fill="#fff" fill-opacity="0.6"/>
<circle cx="760" cy="1046.6" r="1.1" fill="#fff" fill-opacity="0.6"/>
<circle cx="768.5" cy="1046.6" r="1.1" fill="#fff" fill-opacity="0.6"/>
<circle cx="776.9" cy="1046.6" r="1.1" fill="#fff" fill-opacity="0.6"/>
<circle cx="785.3" cy="1046.6" r="1.1" fill="#fff" fill-opacity="0.6"/>
<circle cx="793.8" cy="1046.6" r="1.1" fill="#fff" fill-opacity="0.6"/>
</g>
<path d="M123.5 12.4 V1049.6 M795.0 12.4 V1049.6" stroke="#000" stroke-width="3.2" fill="none"/>
<text transform="translate(101.5 28) scale(1.05 1)" font-size="43" text-anchor="end">40</text>
<text transform="translate(101.5 286.8) scale(1.05 1)" font-size="43" text-anchor="end">20</text>
<text transform="translate(101.8 546) scale(1.05 1)" font-size="43" text-anchor="end">0</text>
<text transform="translate(101.5 799) scale(1.05 1)" font-size="43" text-anchor="end">20</text>
<text transform="translate(101.5 1062) scale(1.05 1)" font-size="43" text-anchor="end">0</text>
<text transform="translate(119.6 1100.5) scale(1.05 1)" font-size="43" text-anchor="middle">0</text>
<text transform="translate(288.3 1100.5) scale(1.05 1)" font-size="43" text-anchor="middle">50</text>
<text transform="translate(455 1100.5) scale(1.05 1)" font-size="43" text-anchor="middle">100</text>
<text transform="translate(625.2 1100.5) scale(1.05 1)" font-size="43" text-anchor="middle">150</text>
<text transform="translate(791.1 1100.5) scale(1.05 1)" font-size="43" text-anchor="middle">200</text>
<text transform="translate(408 1157) scale(1.03 1)" font-size="45"><tspan font-style="italic">T</tspan> (K)</text>
<text transform="translate(35.5,675) scale(1.05 1) rotate(-90)" font-size="47"><tspan dy="5">−</tspan><tspan dy="-5" font-style="italic" font-size="41">Δ</tspan><tspan font-style="italic">S</tspan><tspan font-style="italic" font-size="30" dy="13">M</tspan><tspan dy="-13"> (J/kg K)</tspan></text>
<text x="149" y="71" font-size="41"><tspan font-weight="bold">(a)</tspan></text>
<text transform="translate(229 71) scale(1.05 1)" font-size="42" font-style="italic">H</text>
<text x="270" y="71" font-size="42">//</text>
<text x="304.5" y="71" font-size="38.5" font-style="italic">c</text>
<text x="149" y="591" font-size="41"><tspan font-weight="bold">(b)</tspan></text>
<text transform="translate(229.3 591) scale(1.04 1)" font-size="42" font-style="italic">H</text>
<path d="M284.5 564 V589 M272.5 589.3 H295.7" stroke="#000" stroke-width="2.8" fill="none"/>
<text x="309.5" y="591" font-size="38.5" font-style="italic">c</text>
<text transform="translate(657 71.3) scale(1.04 1)" font-size="41" fill="#000">ECFO</text>
<text transform="translate(668.6 144.7) scale(1.04 1)" font-size="38" fill="#F44A4C">0-9 T</text>
<text transform="translate(668.6 190.5) scale(1.04 1)" font-size="38" fill="#F7922E">0-7 T</text>
<text transform="translate(668.6 236.7) scale(1.04 1)" font-size="38" fill="#ADA808">0-5 T</text>
<text transform="translate(668.6 283.5) scale(1.04 1)" font-size="38" fill="#62B21A">0-3 T</text>
<text transform="translate(664.2 656.3) scale(1.04 1)" font-size="38" fill="#23679F">0-9 T</text>
<text transform="translate(664.2 702.5) scale(1.04 1)" font-size="38" fill="#2B9BE6">0-7 T</text>
<text transform="translate(664.2 748.8) scale(1.04 1)" font-size="38" fill="#86A6F2">0-5 T</text>
<text transform="translate(664.2 798) scale(1.04 1)" font-size="40" fill="#4A62E2">0-3 T</text>
</svg></body></html>
